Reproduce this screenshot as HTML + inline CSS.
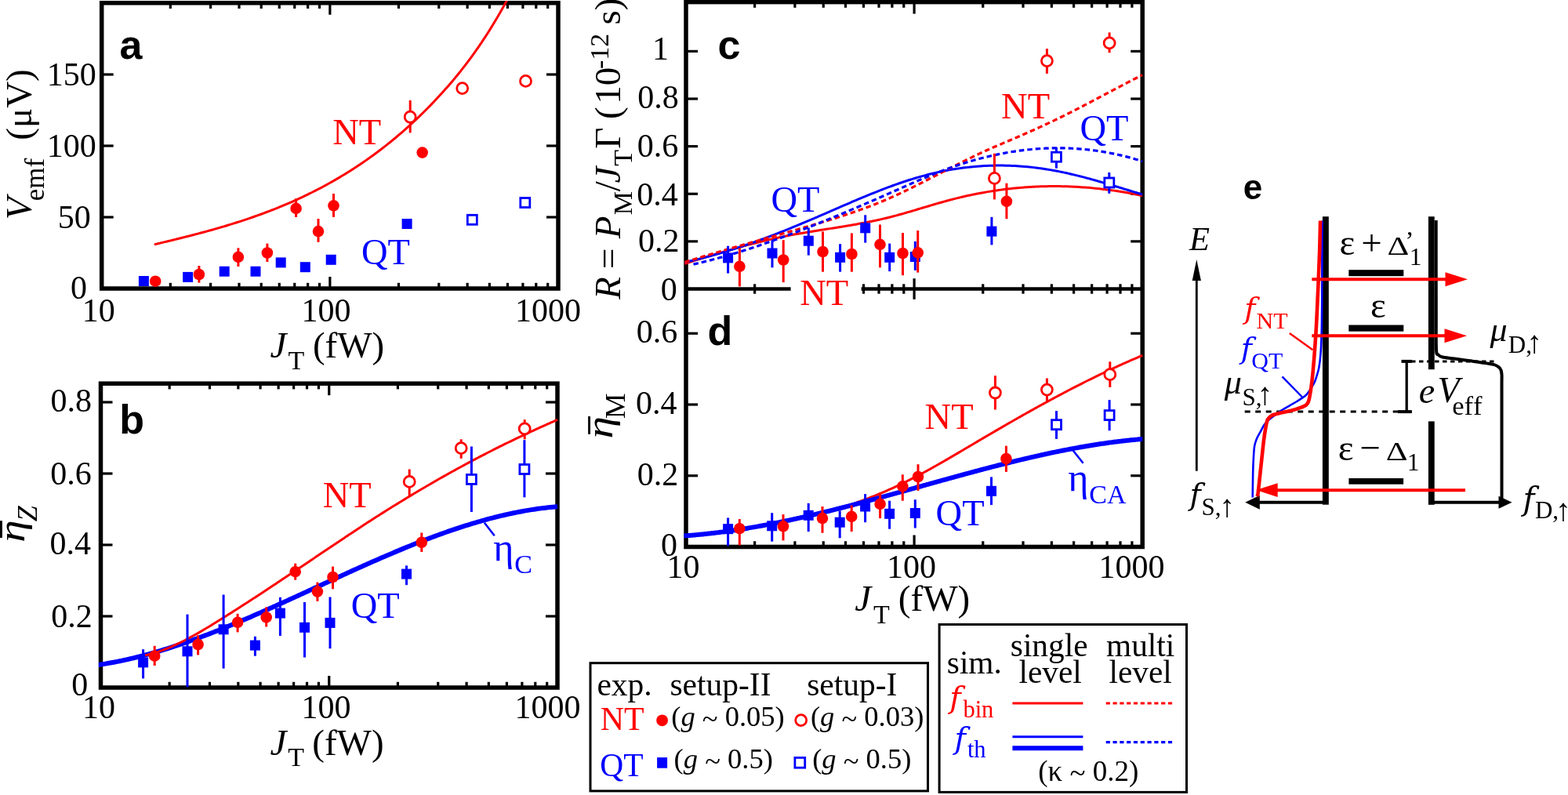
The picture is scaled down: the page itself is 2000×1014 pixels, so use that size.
<!DOCTYPE html>
<html><head><meta charset="utf-8"><title>figure</title>
<style>html,body{margin:0;padding:0;background:#fff;overflow:hidden}svg{display:block}text{font-kerning:none}</style>
</head><body>
<svg width="2000" height="1014" viewBox="0 0 2000 1014">
<defs><clipPath id="clipA"><rect x="127" y="1.05" width="587.7" height="369.65"/></clipPath><clipPath id="clipB"><rect x="125.8" y="486.5" width="587.9" height="393.2"/></clipPath><clipPath id="clipC"><rect x="872.3" y="-0.1" width="587.6" height="368.6"/></clipPath><clipPath id="clipD"><rect x="872.3" y="368.5" width="587.6" height="331.7"/></clipPath></defs>
<rect width="100%" height="100%" fill="#fff"/>
<line x1="217.34" y1="368" x2="217.34" y2="360.8" stroke="#000000" stroke-width="3.2" />
<line x1="268.61" y1="368" x2="268.61" y2="360.8" stroke="#000000" stroke-width="3.2" />
<line x1="304.99" y1="368" x2="304.99" y2="360.8" stroke="#000000" stroke-width="3.2" />
<line x1="333.21" y1="368" x2="333.21" y2="360.8" stroke="#000000" stroke-width="3.2" />
<line x1="356.26" y1="368" x2="356.26" y2="360.8" stroke="#000000" stroke-width="3.2" />
<line x1="375.75" y1="368" x2="375.75" y2="360.8" stroke="#000000" stroke-width="3.2" />
<line x1="392.63" y1="368" x2="392.63" y2="360.8" stroke="#000000" stroke-width="3.2" />
<line x1="407.53" y1="368" x2="407.53" y2="360.8" stroke="#000000" stroke-width="3.2" />
<line x1="420.85" y1="368" x2="420.85" y2="353" stroke="#000000" stroke-width="3.2" />
<line x1="508.49" y1="368" x2="508.49" y2="360.8" stroke="#000000" stroke-width="3.2" />
<line x1="559.76" y1="368" x2="559.76" y2="360.8" stroke="#000000" stroke-width="3.2" />
<line x1="596.14" y1="368" x2="596.14" y2="360.8" stroke="#000000" stroke-width="3.2" />
<line x1="624.36" y1="368" x2="624.36" y2="360.8" stroke="#000000" stroke-width="3.2" />
<line x1="647.41" y1="368" x2="647.41" y2="360.8" stroke="#000000" stroke-width="3.2" />
<line x1="666.9" y1="368" x2="666.9" y2="360.8" stroke="#000000" stroke-width="3.2" />
<line x1="683.78" y1="368" x2="683.78" y2="360.8" stroke="#000000" stroke-width="3.2" />
<line x1="698.68" y1="368" x2="698.68" y2="360.8" stroke="#000000" stroke-width="3.2" />
<line x1="217.34" y1="3.75" x2="217.34" y2="10.95" stroke="#000000" stroke-width="3.2" />
<line x1="268.61" y1="3.75" x2="268.61" y2="10.95" stroke="#000000" stroke-width="3.2" />
<line x1="304.99" y1="3.75" x2="304.99" y2="10.95" stroke="#000000" stroke-width="3.2" />
<line x1="333.21" y1="3.75" x2="333.21" y2="10.95" stroke="#000000" stroke-width="3.2" />
<line x1="356.26" y1="3.75" x2="356.26" y2="10.95" stroke="#000000" stroke-width="3.2" />
<line x1="375.75" y1="3.75" x2="375.75" y2="10.95" stroke="#000000" stroke-width="3.2" />
<line x1="392.63" y1="3.75" x2="392.63" y2="10.95" stroke="#000000" stroke-width="3.2" />
<line x1="407.53" y1="3.75" x2="407.53" y2="10.95" stroke="#000000" stroke-width="3.2" />
<line x1="420.85" y1="3.75" x2="420.85" y2="18.75" stroke="#000000" stroke-width="3.2" />
<line x1="508.49" y1="3.75" x2="508.49" y2="10.95" stroke="#000000" stroke-width="3.2" />
<line x1="559.76" y1="3.75" x2="559.76" y2="10.95" stroke="#000000" stroke-width="3.2" />
<line x1="596.14" y1="3.75" x2="596.14" y2="10.95" stroke="#000000" stroke-width="3.2" />
<line x1="624.36" y1="3.75" x2="624.36" y2="10.95" stroke="#000000" stroke-width="3.2" />
<line x1="647.41" y1="3.75" x2="647.41" y2="10.95" stroke="#000000" stroke-width="3.2" />
<line x1="666.9" y1="3.75" x2="666.9" y2="10.95" stroke="#000000" stroke-width="3.2" />
<line x1="683.78" y1="3.75" x2="683.78" y2="10.95" stroke="#000000" stroke-width="3.2" />
<line x1="698.68" y1="3.75" x2="698.68" y2="10.95" stroke="#000000" stroke-width="3.2" />
<line x1="129.7" y1="277" x2="144.7" y2="277" stroke="#000000" stroke-width="3.2" />
<line x1="712" y1="277" x2="697" y2="277" stroke="#000000" stroke-width="3.2" />
<line x1="129.7" y1="186" x2="144.7" y2="186" stroke="#000000" stroke-width="3.2" />
<line x1="712" y1="186" x2="697" y2="186" stroke="#000000" stroke-width="3.2" />
<line x1="129.7" y1="95" x2="144.7" y2="95" stroke="#000000" stroke-width="3.2" />
<line x1="712" y1="95" x2="697" y2="95" stroke="#000000" stroke-width="3.2" />
<rect x="129.7" y="3.75" width="582.3" height="364.25" fill="none" stroke="#000" stroke-width="5.5"/>
<path d="M198.1,311.54 C198.6,311.42 200.11,311.06 201.11,310.82 C202.11,310.58 203.12,310.34 204.12,310.1 C205.12,309.86 206.13,309.62 207.13,309.38 C208.13,309.14 209.13,308.9 210.14,308.66 C211.14,308.42 212.14,308.18 213.15,307.94 C214.15,307.69 215.15,307.45 216.16,307.21 C217.16,306.96 218.16,306.72 219.17,306.47 C220.17,306.23 221.17,305.99 222.18,305.74 C223.18,305.49 224.18,305.25 225.18,305 C226.19,304.75 227.19,304.5 228.19,304.25 C229.2,304.01 230.2,303.76 231.2,303.51 C232.21,303.25 233.21,303 234.21,302.75 C235.22,302.5 236.22,302.25 237.22,301.99 C238.23,301.74 239.23,301.48 240.23,301.23 C241.23,300.97 242.24,300.71 243.24,300.45 C244.24,300.2 245.25,299.94 246.25,299.68 C247.25,299.42 248.26,299.15 249.26,298.89 C250.26,298.63 251.27,298.37 252.27,298.1 C253.27,297.84 254.28,297.57 255.28,297.3 C256.28,297.04 257.28,296.77 258.29,296.5 C259.29,296.23 260.29,295.96 261.3,295.68 C262.3,295.41 263.3,295.14 264.31,294.86 C265.31,294.59 266.31,294.31 267.32,294.03 C268.32,293.75 269.32,293.47 270.33,293.19 C271.33,292.91 272.33,292.63 273.33,292.34 C274.34,292.06 275.34,291.77 276.34,291.49 C277.35,291.2 278.35,290.91 279.35,290.62 C280.36,290.33 281.36,290.03 282.36,289.74 C283.37,289.45 284.37,289.15 285.37,288.85 C286.38,288.56 287.38,288.26 288.38,287.95 C289.39,287.65 290.39,287.35 291.39,287.05 C292.39,286.74 293.4,286.43 294.4,286.13 C295.4,285.82 296.41,285.51 297.41,285.19 C298.41,284.88 299.42,284.57 300.42,284.25 C301.42,283.93 302.43,283.61 303.43,283.29 C304.43,282.97 305.44,282.65 306.44,282.33 C307.44,282 308.44,281.67 309.45,281.34 C310.45,281.02 311.45,280.68 312.46,280.35 C313.46,280.02 314.46,279.68 315.47,279.34 C316.47,279.01 317.47,278.67 318.48,278.32 C319.48,277.98 320.48,277.63 321.49,277.29 C322.49,276.94 323.49,276.59 324.49,276.24 C325.5,275.89 326.5,275.53 327.5,275.17 C328.51,274.82 329.51,274.46 330.51,274.1 C331.52,273.73 332.52,273.37 333.52,273 C334.53,272.63 335.53,272.26 336.53,271.89 C337.54,271.52 338.54,271.14 339.54,270.77 C340.54,270.39 341.55,270.01 342.55,269.63 C343.55,269.24 344.56,268.86 345.56,268.47 C346.56,268.08 347.57,267.69 348.57,267.29 C349.57,266.9 350.58,266.5 351.58,266.1 C352.58,265.7 353.59,265.3 354.59,264.89 C355.59,264.49 356.59,264.08 357.6,263.67 C358.6,263.25 359.6,262.84 360.61,262.42 C361.61,262 362.61,261.58 363.62,261.16 C364.62,260.74 365.62,260.31 366.63,259.88 C367.63,259.45 368.63,259.01 369.64,258.58 C370.64,258.14 371.64,257.7 372.64,257.26 C373.65,256.82 374.65,256.37 375.65,255.92 C376.66,255.47 377.66,255.02 378.66,254.56 C379.67,254.1 380.67,253.65 381.67,253.18 C382.68,252.72 383.68,252.25 384.68,251.78 C385.69,251.31 386.69,250.84 387.69,250.36 C388.7,249.89 389.7,249.41 390.7,248.92 C391.7,248.44 392.71,247.95 393.71,247.46 C394.71,246.97 395.72,246.47 396.72,245.98 C397.72,245.48 398.73,244.98 399.73,244.47 C400.73,243.96 401.74,243.46 402.74,242.94 C403.74,242.43 404.75,241.91 405.75,241.39 C406.75,240.87 407.75,240.35 408.76,239.82 C409.76,239.29 410.76,238.76 411.77,238.22 C412.77,237.69 413.77,237.15 414.78,236.6 C415.78,236.06 416.78,235.51 417.79,234.96 C418.79,234.41 419.79,233.85 420.8,233.29 C421.8,232.73 422.8,232.17 423.8,231.6 C424.81,231.03 425.81,230.46 426.81,229.88 C427.82,229.3 428.82,228.72 429.82,228.14 C430.83,227.55 431.83,226.96 432.83,226.37 C433.84,225.78 434.84,225.18 435.84,224.58 C436.85,223.98 437.85,223.37 438.85,222.76 C439.85,222.15 440.86,221.53 441.86,220.91 C442.86,220.29 443.87,219.67 444.87,219.04 C445.87,218.41 446.88,217.78 447.88,217.14 C448.88,216.5 449.89,215.86 450.89,215.21 C451.89,214.57 452.9,213.91 453.9,213.26 C454.9,212.6 455.9,211.94 456.91,211.27 C457.91,210.61 458.91,209.94 459.92,209.26 C460.92,208.58 461.92,207.9 462.93,207.22 C463.93,206.53 464.93,205.84 465.94,205.14 C466.94,204.45 467.94,203.74 468.95,203.04 C469.95,202.33 470.95,201.62 471.96,200.9 C472.96,200.19 473.96,199.47 474.96,198.74 C475.97,198.01 476.97,197.28 477.97,196.54 C478.98,195.8 479.98,195.06 480.98,194.31 C481.99,193.56 482.99,192.81 483.99,192.05 C485,191.29 486,190.52 487,189.75 C488.01,188.98 489.01,188.2 490.01,187.42 C491.01,186.64 492.02,185.85 493.02,185.06 C494.02,184.26 495.03,183.47 496.03,182.66 C497.03,181.86 498.04,181.04 499.04,180.23 C500.04,179.41 501.05,178.59 502.05,177.76 C503.05,176.93 504.06,176.1 505.06,175.26 C506.06,174.42 507.06,173.57 508.07,172.72 C509.07,171.86 510.07,171 511.08,170.14 C512.08,169.27 513.08,168.4 514.09,167.53 C515.09,166.65 516.09,165.76 517.1,164.87 C518.1,163.98 519.1,163.09 520.11,162.18 C521.11,161.28 522.11,160.37 523.11,159.46 C524.12,158.54 525.12,157.62 526.12,156.69 C527.13,155.76 528.13,154.83 529.13,153.88 C530.14,152.94 531.14,151.99 532.14,151.04 C533.15,150.08 534.15,149.12 535.15,148.15 C536.16,147.18 537.16,146.21 538.16,145.23 C539.16,144.24 540.17,143.25 541.17,142.26 C542.17,141.26 543.18,140.26 544.18,139.25 C545.18,138.24 546.19,137.22 547.19,136.2 C548.19,135.17 549.2,134.14 550.2,133.1 C551.2,132.07 552.21,131.02 553.21,129.97 C554.21,128.91 555.21,127.85 556.22,126.79 C557.22,125.72 558.22,124.65 559.23,123.56 C560.23,122.48 561.23,121.39 562.24,120.29 C563.24,119.2 564.24,118.09 565.25,116.98 C566.25,115.86 567.25,114.74 568.26,113.61 C569.26,112.48 570.26,111.34 571.27,110.19 C572.27,109.04 573.27,107.88 574.27,106.72 C575.28,105.55 576.28,104.37 577.28,103.18 C578.29,102 579.29,100.8 580.29,99.59 C581.3,98.38 582.3,97.17 583.3,95.94 C584.31,94.71 585.31,93.47 586.31,92.22 C587.32,90.97 588.32,89.71 589.32,88.43 C590.32,87.16 591.33,85.87 592.33,84.58 C593.33,83.28 594.34,81.97 595.34,80.65 C596.34,79.33 597.35,77.99 598.35,76.65 C599.35,75.3 600.36,73.94 601.36,72.57 C602.36,71.2 603.37,69.81 604.37,68.41 C605.37,67.02 606.37,65.6 607.38,64.18 C608.38,62.75 609.38,61.31 610.39,59.86 C611.39,58.4 612.39,56.93 613.4,55.45 C614.4,53.96 615.4,52.47 616.41,50.95 C617.41,49.44 618.41,47.91 619.42,46.37 C620.42,44.82 621.42,43.26 622.42,41.69 C623.43,40.11 624.43,38.52 625.43,36.91 C626.44,35.3 627.44,33.68 628.44,32.04 C629.45,30.4 630.45,28.74 631.45,27.06 C632.46,25.39 633.46,23.7 634.46,21.99 C635.47,20.28 636.47,18.55 637.47,16.81 C638.47,15.06 639.48,13.3 640.48,11.52 C641.48,9.73 642.49,7.94 643.49,6.12 C644.49,4.3 646,1.52 646.5,0.61" fill="none" stroke="#ff0000" stroke-width="3" stroke-linecap="round" stroke-linejoin="round" clip-path="url(#clipA)"/>
<rect x="176.9" y="352" width="13" height="13" fill="#0000ff"/>
<rect x="233.1" y="346.9" width="13" height="13" fill="#0000ff"/>
<rect x="279.7" y="339.7" width="13" height="13" fill="#0000ff"/>
<rect x="319.5" y="339.7" width="13" height="13" fill="#0000ff"/>
<rect x="351.7" y="328.4" width="13" height="13" fill="#0000ff"/>
<rect x="382.8" y="334.2" width="13" height="13" fill="#0000ff"/>
<rect x="415.7" y="324.8" width="13" height="13" fill="#0000ff"/>
<rect x="512.6" y="279" width="13" height="13" fill="#0000ff"/>
<rect x="596.3" y="274.3" width="12" height="12" fill="#fff" stroke="#0000ff" stroke-width="2.8"/>
<rect x="663.8" y="252.5" width="12" height="12" fill="#fff" stroke="#0000ff" stroke-width="2.8"/>
<circle cx="198.2" cy="358.7" r="7.3" fill="#ff0000"/>
<line x1="253.9" y1="339" x2="253.9" y2="360.6" stroke="#ff0000" stroke-width="3" />
<circle cx="253.9" cy="350" r="7.3" fill="#ff0000"/>
<line x1="303.9" y1="316.3" x2="303.9" y2="339.9" stroke="#ff0000" stroke-width="3" />
<circle cx="303.9" cy="327.8" r="7.3" fill="#ff0000"/>
<line x1="340.9" y1="310.6" x2="340.9" y2="334" stroke="#ff0000" stroke-width="3" />
<circle cx="340.9" cy="322.5" r="7.3" fill="#ff0000"/>
<line x1="377.6" y1="253.2" x2="377.6" y2="276.9" stroke="#ff0000" stroke-width="3" />
<circle cx="377.6" cy="265.9" r="7.3" fill="#ff0000"/>
<line x1="406" y1="279" x2="406" y2="308.8" stroke="#ff0000" stroke-width="3" />
<circle cx="406" cy="295.1" r="7.3" fill="#ff0000"/>
<line x1="425.5" y1="247" x2="425.5" y2="276.9" stroke="#ff0000" stroke-width="3" />
<circle cx="425.5" cy="262.3" r="7.3" fill="#ff0000"/>
<circle cx="538.7" cy="194.6" r="7.3" fill="#ff0000"/>
<line x1="523.2" y1="128" x2="523.2" y2="169.4" stroke="#ff0000" stroke-width="3" />
<circle cx="523.2" cy="149.2" r="7" fill="#fff" stroke="#ff0000" stroke-width="2.8"/>
<circle cx="589.7" cy="112.6" r="7" fill="#fff" stroke="#ff0000" stroke-width="2.8"/>
<circle cx="670.5" cy="103.4" r="7" fill="#fff" stroke="#ff0000" stroke-width="2.8"/>
<text transform="translate(152.48,75.49)" font-family="'Liberation Sans',sans-serif" font-style="normal" font-weight="bold" font-size="52" fill="#000000">a</text>
<text transform="translate(424.16,184.3)" font-family="'Liberation Serif',serif" font-style="normal" font-weight="normal" font-size="46.5" fill="#ff0000">NT</text>
<text transform="translate(460.99,337.2)" font-family="'Liberation Serif',serif" font-style="normal" font-weight="normal" font-size="46.5" fill="#0000ff">QT</text>
<text transform="translate(90,380.59)" font-family="'Liberation Serif',serif" font-style="normal" font-weight="normal" font-size="42" fill="#000000">0</text>
<text transform="translate(73.78,290.99)" font-family="'Liberation Serif',serif" font-style="normal" font-weight="normal" font-size="42" fill="#000000">50</text>
<text transform="translate(59.75,199.89)" font-family="'Liberation Serif',serif" font-style="normal" font-weight="normal" font-size="42" fill="#000000">100</text>
<text transform="translate(59.75,109.09)" font-family="'Liberation Serif',serif" font-style="normal" font-weight="normal" font-size="42" fill="#000000">150</text>
<text transform="translate(104.85,409.99)" font-family="'Liberation Serif',serif" font-style="normal" font-weight="normal" font-size="42" fill="#000000">10</text>
<text transform="translate(384.55,410.29)" font-family="'Liberation Serif',serif" font-style="normal" font-weight="normal" font-size="42" fill="#000000">100</text>
<text transform="translate(656.95,409.99)" font-family="'Liberation Serif',serif" font-style="normal" font-weight="normal" font-size="42" fill="#000000">1000</text>
<text transform="translate(344.49,456.3)" font-family="'Liberation Serif',serif" font-style="italic" font-weight="normal" font-size="47" fill="#000000">J</text>
<text transform="translate(367.39,470.9)" font-family="'Liberation Serif',serif" font-style="normal" font-weight="normal" font-size="34" fill="#000000">T</text>
<text transform="translate(398.93,456.3)" font-family="'Liberation Serif',serif" font-style="normal" font-weight="normal" font-size="47" fill="#000000">(fW)</text>
<text transform="translate(40.3,280.16) rotate(-90)" font-family="'Liberation Serif',serif" font-style="italic" font-weight="normal" font-size="47" fill="#000000">V</text>
<text transform="translate(55.9,256.27) rotate(-90)" font-family="'Liberation Serif',serif" font-style="normal" font-weight="normal" font-size="35" fill="#000000">emf</text>
<text transform="translate(40,178.67) rotate(-90)" font-family="'Liberation Serif',serif" font-style="normal" font-weight="normal" font-size="47" fill="#000000">(μV)</text>
<line x1="216.17" y1="877" x2="216.17" y2="869.8" stroke="#000000" stroke-width="3.2" />
<line x1="267.46" y1="877" x2="267.46" y2="869.8" stroke="#000000" stroke-width="3.2" />
<line x1="303.85" y1="877" x2="303.85" y2="869.8" stroke="#000000" stroke-width="3.2" />
<line x1="332.08" y1="877" x2="332.08" y2="869.8" stroke="#000000" stroke-width="3.2" />
<line x1="355.14" y1="877" x2="355.14" y2="869.8" stroke="#000000" stroke-width="3.2" />
<line x1="374.63" y1="877" x2="374.63" y2="869.8" stroke="#000000" stroke-width="3.2" />
<line x1="391.52" y1="877" x2="391.52" y2="869.8" stroke="#000000" stroke-width="3.2" />
<line x1="406.42" y1="877" x2="406.42" y2="869.8" stroke="#000000" stroke-width="3.2" />
<line x1="419.75" y1="877" x2="419.75" y2="862" stroke="#000000" stroke-width="3.2" />
<line x1="507.42" y1="877" x2="507.42" y2="869.8" stroke="#000000" stroke-width="3.2" />
<line x1="558.71" y1="877" x2="558.71" y2="869.8" stroke="#000000" stroke-width="3.2" />
<line x1="595.1" y1="877" x2="595.1" y2="869.8" stroke="#000000" stroke-width="3.2" />
<line x1="623.33" y1="877" x2="623.33" y2="869.8" stroke="#000000" stroke-width="3.2" />
<line x1="646.39" y1="877" x2="646.39" y2="869.8" stroke="#000000" stroke-width="3.2" />
<line x1="665.88" y1="877" x2="665.88" y2="869.8" stroke="#000000" stroke-width="3.2" />
<line x1="682.77" y1="877" x2="682.77" y2="869.8" stroke="#000000" stroke-width="3.2" />
<line x1="697.67" y1="877" x2="697.67" y2="869.8" stroke="#000000" stroke-width="3.2" />
<line x1="216.17" y1="489.2" x2="216.17" y2="496.4" stroke="#000000" stroke-width="3.2" />
<line x1="267.46" y1="489.2" x2="267.46" y2="496.4" stroke="#000000" stroke-width="3.2" />
<line x1="303.85" y1="489.2" x2="303.85" y2="496.4" stroke="#000000" stroke-width="3.2" />
<line x1="332.08" y1="489.2" x2="332.08" y2="496.4" stroke="#000000" stroke-width="3.2" />
<line x1="355.14" y1="489.2" x2="355.14" y2="496.4" stroke="#000000" stroke-width="3.2" />
<line x1="374.63" y1="489.2" x2="374.63" y2="496.4" stroke="#000000" stroke-width="3.2" />
<line x1="391.52" y1="489.2" x2="391.52" y2="496.4" stroke="#000000" stroke-width="3.2" />
<line x1="406.42" y1="489.2" x2="406.42" y2="496.4" stroke="#000000" stroke-width="3.2" />
<line x1="419.75" y1="489.2" x2="419.75" y2="504.2" stroke="#000000" stroke-width="3.2" />
<line x1="507.42" y1="489.2" x2="507.42" y2="496.4" stroke="#000000" stroke-width="3.2" />
<line x1="558.71" y1="489.2" x2="558.71" y2="496.4" stroke="#000000" stroke-width="3.2" />
<line x1="595.1" y1="489.2" x2="595.1" y2="496.4" stroke="#000000" stroke-width="3.2" />
<line x1="623.33" y1="489.2" x2="623.33" y2="496.4" stroke="#000000" stroke-width="3.2" />
<line x1="646.39" y1="489.2" x2="646.39" y2="496.4" stroke="#000000" stroke-width="3.2" />
<line x1="665.88" y1="489.2" x2="665.88" y2="496.4" stroke="#000000" stroke-width="3.2" />
<line x1="682.77" y1="489.2" x2="682.77" y2="496.4" stroke="#000000" stroke-width="3.2" />
<line x1="697.67" y1="489.2" x2="697.67" y2="496.4" stroke="#000000" stroke-width="3.2" />
<line x1="128.5" y1="786" x2="143.5" y2="786" stroke="#000000" stroke-width="3.2" />
<line x1="711" y1="786" x2="696" y2="786" stroke="#000000" stroke-width="3.2" />
<line x1="128.5" y1="695" x2="143.5" y2="695" stroke="#000000" stroke-width="3.2" />
<line x1="711" y1="695" x2="696" y2="695" stroke="#000000" stroke-width="3.2" />
<line x1="128.5" y1="604" x2="143.5" y2="604" stroke="#000000" stroke-width="3.2" />
<line x1="711" y1="604" x2="696" y2="604" stroke="#000000" stroke-width="3.2" />
<line x1="128.5" y1="513" x2="143.5" y2="513" stroke="#000000" stroke-width="3.2" />
<line x1="711" y1="513" x2="696" y2="513" stroke="#000000" stroke-width="3.2" />
<rect x="128.5" y="489.2" width="582.5" height="387.8" fill="none" stroke="#000" stroke-width="5.5"/>
<path d="M125.5,848 C126,847.93 127.5,847.7 128.5,847.55 C129.5,847.4 130.5,847.24 131.51,847.08 C132.51,846.92 133.51,846.75 134.51,846.59 C135.51,846.42 136.51,846.25 137.51,846.07 C138.51,845.9 139.51,845.72 140.51,845.54 C141.51,845.36 142.51,845.18 143.52,844.99 C144.52,844.81 145.52,844.62 146.52,844.43 C147.52,844.23 148.52,844.04 149.52,843.84 C150.52,843.64 151.52,843.44 152.52,843.23 C153.52,843.03 154.52,842.82 155.53,842.61 C156.53,842.4 157.53,842.18 158.53,841.96 C159.53,841.75 160.53,841.53 161.53,841.3 C162.53,841.08 163.53,840.85 164.53,840.63 C165.53,840.4 166.54,840.16 167.54,839.93 C168.54,839.69 169.54,839.46 170.54,839.22 C171.54,838.98 172.54,838.73 173.54,838.49 C174.54,838.24 175.54,837.99 176.54,837.74 C177.54,837.49 178.55,837.23 179.55,836.98 C180.55,836.72 181.55,836.46 182.55,836.2 C183.55,835.93 184.55,835.67 185.55,835.4 C186.55,835.13 187.55,834.86 188.55,834.59 C189.55,834.32 190.56,834.04 191.56,833.76 C192.56,833.48 193.56,833.2 194.56,832.92 C195.56,832.64 196.56,832.35 197.56,832.06 C198.56,831.77 199.56,831.48 200.56,831.19 C201.56,830.89 202.57,830.6 203.57,830.3 C204.57,830 205.57,829.7 206.57,829.4 C207.57,829.09 208.57,828.79 209.57,828.48 C210.57,828.17 211.57,827.86 212.57,827.55 C213.58,827.24 214.58,826.92 215.58,826.6 C216.58,826.29 217.58,825.97 218.58,825.64 C219.58,825.32 220.58,825 221.58,824.67 C222.58,824.35 223.58,824.02 224.58,823.69 C225.59,823.35 226.59,823.02 227.59,822.69 C228.59,822.35 229.59,822.01 230.59,821.68 C231.59,821.34 232.59,820.99 233.59,820.65 C234.59,820.31 235.59,819.96 236.59,819.61 C237.6,819.27 238.6,818.92 239.6,818.56 C240.6,818.21 241.6,817.86 242.6,817.5 C243.6,817.15 244.6,816.79 245.6,816.43 C246.6,816.07 247.6,815.71 248.61,815.35 C249.61,814.98 250.61,814.62 251.61,814.25 C252.61,813.88 253.61,813.51 254.61,813.14 C255.61,812.77 256.61,812.4 257.61,812.03 C258.61,811.65 259.61,811.28 260.62,810.9 C261.62,810.52 262.62,810.14 263.62,809.76 C264.62,809.38 265.62,808.99 266.62,808.61 C267.62,808.23 268.62,807.84 269.62,807.45 C270.62,807.06 271.62,806.67 272.63,806.28 C273.63,805.89 274.63,805.5 275.63,805.1 C276.63,804.71 277.63,804.31 278.63,803.92 C279.63,803.52 280.63,803.12 281.63,802.72 C282.63,802.32 283.64,801.92 284.64,801.51 C285.64,801.11 286.64,800.7 287.64,800.3 C288.64,799.89 289.64,799.48 290.64,799.07 C291.64,798.67 292.64,798.26 293.64,797.84 C294.64,797.43 295.65,797.02 296.65,796.6 C297.65,796.19 298.65,795.77 299.65,795.36 C300.65,794.94 301.65,794.52 302.65,794.1 C303.65,793.68 304.65,793.26 305.65,792.84 C306.65,792.42 307.66,791.99 308.66,791.57 C309.66,791.15 310.66,790.72 311.66,790.29 C312.66,789.87 313.66,789.44 314.66,789.01 C315.66,788.58 316.66,788.15 317.66,787.72 C318.66,787.29 319.67,786.86 320.67,786.42 C321.67,785.99 322.67,785.56 323.67,785.12 C324.67,784.69 325.67,784.25 326.67,783.81 C327.67,783.38 328.67,782.94 329.67,782.5 C330.68,782.06 331.68,781.62 332.68,781.18 C333.68,780.74 334.68,780.3 335.68,779.86 C336.68,779.42 337.68,778.97 338.68,778.53 C339.68,778.08 340.68,777.64 341.68,777.19 C342.69,776.75 343.69,776.3 344.69,775.86 C345.69,775.41 346.69,774.96 347.69,774.51 C348.69,774.06 349.69,773.62 350.69,773.17 C351.69,772.72 352.69,772.27 353.69,771.81 C354.7,771.36 355.7,770.91 356.7,770.46 C357.7,770.01 358.7,769.55 359.7,769.1 C360.7,768.65 361.7,768.19 362.7,767.74 C363.7,767.29 364.7,766.83 365.71,766.38 C366.71,765.92 367.71,765.46 368.71,765.01 C369.71,764.55 370.71,764.1 371.71,763.64 C372.71,763.18 373.71,762.72 374.71,762.27 C375.71,761.81 376.71,761.35 377.72,760.89 C378.72,760.43 379.72,759.98 380.72,759.52 C381.72,759.06 382.72,758.6 383.72,758.14 C384.72,757.68 385.72,757.22 386.72,756.76 C387.72,756.3 388.72,755.84 389.73,755.38 C390.73,754.92 391.73,754.46 392.73,754 C393.73,753.54 394.73,753.07 395.73,752.61 C396.73,752.15 397.73,751.69 398.73,751.23 C399.73,750.77 400.74,750.31 401.74,749.85 C402.74,749.39 403.74,748.92 404.74,748.46 C405.74,748 406.74,747.54 407.74,747.08 C408.74,746.62 409.74,746.16 410.74,745.7 C411.74,745.23 412.75,744.77 413.75,744.31 C414.75,743.85 415.75,743.39 416.75,742.93 C417.75,742.47 418.75,742.01 419.75,741.55 C420.75,741.09 421.75,740.63 422.75,740.17 C423.75,739.71 424.76,739.25 425.76,738.79 C426.76,738.33 427.76,737.87 428.76,737.41 C429.76,736.95 430.76,736.49 431.76,736.04 C432.76,735.58 433.76,735.12 434.76,734.66 C435.76,734.2 436.77,733.75 437.77,733.29 C438.77,732.83 439.77,732.38 440.77,731.92 C441.77,731.47 442.77,731.01 443.77,730.56 C444.77,730.1 445.77,729.65 446.77,729.19 C447.78,728.74 448.78,728.28 449.78,727.83 C450.78,727.38 451.78,726.93 452.78,726.47 C453.78,726.02 454.78,725.57 455.78,725.12 C456.78,724.67 457.78,724.22 458.78,723.77 C459.79,723.32 460.79,722.87 461.79,722.43 C462.79,721.98 463.79,721.53 464.79,721.08 C465.79,720.64 466.79,720.19 467.79,719.75 C468.79,719.3 469.79,718.86 470.79,718.41 C471.8,717.97 472.8,717.53 473.8,717.09 C474.8,716.64 475.8,716.2 476.8,715.76 C477.8,715.32 478.8,714.88 479.8,714.45 C480.8,714.01 481.8,713.57 482.81,713.13 C483.81,712.7 484.81,712.26 485.81,711.83 C486.81,711.39 487.81,710.96 488.81,710.53 C489.81,710.1 490.81,709.66 491.81,709.23 C492.81,708.8 493.81,708.37 494.82,707.95 C495.82,707.52 496.82,707.09 497.82,706.67 C498.82,706.24 499.82,705.81 500.82,705.39 C501.82,704.97 502.82,704.54 503.82,704.12 C504.82,703.7 505.82,703.28 506.83,702.86 C507.83,702.44 508.83,702.03 509.83,701.61 C510.83,701.19 511.83,700.78 512.83,700.37 C513.83,699.95 514.83,699.54 515.83,699.13 C516.83,698.72 517.84,698.31 518.84,697.9 C519.84,697.49 520.84,697.09 521.84,696.68 C522.84,696.27 523.84,695.87 524.84,695.47 C525.84,695.07 526.84,694.66 527.84,694.26 C528.84,693.87 529.85,693.47 530.85,693.07 C531.85,692.67 532.85,692.28 533.85,691.89 C534.85,691.49 535.85,691.1 536.85,690.71 C537.85,690.32 538.85,689.93 539.85,689.54 C540.85,689.16 541.86,688.77 542.86,688.39 C543.86,688 544.86,687.62 545.86,687.24 C546.86,686.86 547.86,686.48 548.86,686.11 C549.86,685.73 550.86,685.36 551.86,684.98 C552.86,684.61 553.87,684.24 554.87,683.87 C555.87,683.5 556.87,683.13 557.87,682.76 C558.87,682.4 559.87,682.03 560.87,681.67 C561.87,681.31 562.87,680.95 563.87,680.59 C564.88,680.23 565.88,679.88 566.88,679.52 C567.88,679.17 568.88,678.82 569.88,678.46 C570.88,678.11 571.88,677.77 572.88,677.42 C573.88,677.07 574.88,676.73 575.88,676.39 C576.89,676.04 577.89,675.7 578.89,675.37 C579.89,675.03 580.89,674.69 581.89,674.36 C582.89,674.02 583.89,673.69 584.89,673.36 C585.89,673.03 586.89,672.71 587.89,672.38 C588.9,672.06 589.9,671.73 590.9,671.41 C591.9,671.09 592.9,670.77 593.9,670.46 C594.9,670.14 595.9,669.83 596.9,669.52 C597.9,669.21 598.9,668.9 599.91,668.59 C600.91,668.28 601.91,667.98 602.91,667.68 C603.91,667.38 604.91,667.08 605.91,666.78 C606.91,666.48 607.91,666.19 608.91,665.9 C609.91,665.61 610.91,665.32 611.92,665.03 C612.92,664.74 613.92,664.46 614.92,664.18 C615.92,663.89 616.92,663.61 617.92,663.34 C618.92,663.06 619.92,662.79 620.92,662.51 C621.92,662.24 622.92,661.97 623.93,661.71 C624.93,661.44 625.93,661.18 626.93,660.92 C627.93,660.66 628.93,660.4 629.93,660.14 C630.93,659.89 631.93,659.63 632.93,659.38 C633.93,659.13 634.94,658.89 635.94,658.64 C636.94,658.4 637.94,658.16 638.94,657.92 C639.94,657.68 640.94,657.44 641.94,657.21 C642.94,656.98 643.94,656.75 644.94,656.52 C645.94,656.29 646.95,656.07 647.95,655.85 C648.95,655.63 649.95,655.41 650.95,655.19 C651.95,654.98 652.95,654.76 653.95,654.56 C654.95,654.35 655.95,654.14 656.95,653.94 C657.95,653.73 658.96,653.53 659.96,653.34 C660.96,653.14 661.96,652.95 662.96,652.75 C663.96,652.56 664.96,652.38 665.96,652.19 C666.96,652.01 667.96,651.83 668.96,651.65 C669.96,651.47 670.97,651.29 671.97,651.12 C672.97,650.95 673.97,650.78 674.97,650.62 C675.97,650.45 676.97,650.29 677.97,650.13 C678.97,649.97 679.97,649.82 680.97,649.67 C681.98,649.52 682.98,649.37 683.98,649.22 C684.98,649.08 685.98,648.93 686.98,648.8 C687.98,648.66 688.98,648.52 689.98,648.39 C690.98,648.26 691.98,648.13 692.98,648.01 C693.99,647.88 694.99,647.76 695.99,647.65 C696.99,647.53 697.99,647.41 698.99,647.3 C699.99,647.19 700.99,647.09 701.99,646.98 C702.99,646.88 703.99,646.78 704.99,646.69 C706,646.59 707,646.5 708,646.41 C709,646.32 710.5,646.2 711,646.16" fill="none" stroke="#0000ff" stroke-width="6" stroke-linecap="butt" stroke-linejoin="round" clip-path="url(#clipB)"/>
<path d="M185,835.85 C185.5,835.74 187,835.41 188.01,835.18 C189.01,834.94 190.01,834.7 191.01,834.44 C192.01,834.18 193.02,833.91 194.02,833.63 C195.02,833.35 196.02,833.06 197.02,832.76 C198.02,832.46 199.03,832.15 200.03,831.83 C201.03,831.51 202.03,831.18 203.03,830.84 C204.04,830.5 205.04,830.15 206.04,829.79 C207.04,829.43 208.04,829.06 209.05,828.68 C210.05,828.3 211.05,827.91 212.05,827.51 C213.05,827.12 214.06,826.71 215.06,826.3 C216.06,825.89 217.06,825.46 218.06,825.03 C219.06,824.6 220.07,824.16 221.07,823.72 C222.07,823.27 223.07,822.82 224.07,822.36 C225.08,821.89 226.08,821.43 227.08,820.95 C228.08,820.47 229.08,819.99 230.09,819.5 C231.09,819.01 232.09,818.51 233.09,818.01 C234.09,817.51 235.1,817 236.1,816.48 C237.1,815.97 238.1,815.44 239.1,814.92 C240.1,814.39 241.11,813.85 242.11,813.31 C243.11,812.77 244.11,812.23 245.11,811.68 C246.12,811.13 247.12,810.57 248.12,810.02 C249.12,809.46 250.12,808.89 251.13,808.32 C252.13,807.75 253.13,807.18 254.13,806.6 C255.13,806.02 256.14,805.44 257.14,804.85 C258.14,804.27 259.14,803.68 260.14,803.08 C261.14,802.49 262.15,801.89 263.15,801.29 C264.15,800.69 265.15,800.09 266.15,799.48 C267.16,798.88 268.16,798.27 269.16,797.66 C270.16,797.04 271.16,796.43 272.17,795.81 C273.17,795.2 274.17,794.58 275.17,793.96 C276.17,793.34 277.18,792.71 278.18,792.09 C279.18,791.47 280.18,790.84 281.18,790.21 C282.18,789.59 283.19,788.96 284.19,788.33 C285.19,787.7 286.19,787.07 287.19,786.44 C288.2,785.81 289.2,785.18 290.2,784.54 C291.2,783.91 292.2,783.28 293.21,782.64 C294.21,782.01 295.21,781.37 296.21,780.74 C297.21,780.1 298.22,779.46 299.22,778.82 C300.22,778.19 301.22,777.55 302.22,776.91 C303.22,776.27 304.23,775.63 305.23,774.98 C306.23,774.34 307.23,773.7 308.23,773.06 C309.24,772.41 310.24,771.77 311.24,771.13 C312.24,770.48 313.24,769.83 314.25,769.19 C315.25,768.54 316.25,767.89 317.25,767.25 C318.25,766.6 319.26,765.95 320.26,765.3 C321.26,764.65 322.26,764 323.26,763.35 C324.26,762.7 325.27,762.05 326.27,761.39 C327.27,760.74 328.27,760.09 329.27,759.43 C330.28,758.78 331.28,758.13 332.28,757.47 C333.28,756.81 334.28,756.16 335.29,755.5 C336.29,754.84 337.29,754.19 338.29,753.53 C339.29,752.87 340.3,752.21 341.3,751.55 C342.3,750.89 343.3,750.23 344.3,749.57 C345.3,748.91 346.31,748.25 347.31,747.59 C348.31,746.93 349.31,746.26 350.31,745.6 C351.32,744.94 352.32,744.28 353.32,743.61 C354.32,742.95 355.32,742.28 356.33,741.62 C357.33,740.95 358.33,740.29 359.33,739.62 C360.33,738.95 361.34,738.28 362.34,737.62 C363.34,736.95 364.34,736.28 365.34,735.61 C366.34,734.94 367.35,734.28 368.35,733.61 C369.35,732.94 370.35,732.27 371.35,731.6 C372.36,730.92 373.36,730.25 374.36,729.58 C375.36,728.91 376.36,728.24 377.37,727.57 C378.37,726.89 379.37,726.22 380.37,725.55 C381.37,724.87 382.38,724.2 383.38,723.53 C384.38,722.85 385.38,722.18 386.38,721.5 C387.38,720.83 388.39,720.15 389.39,719.48 C390.39,718.8 391.39,718.13 392.39,717.45 C393.4,716.78 394.4,716.1 395.4,715.43 C396.4,714.75 397.4,714.08 398.41,713.4 C399.41,712.72 400.41,712.05 401.41,711.37 C402.41,710.7 403.42,710.02 404.42,709.34 C405.42,708.67 406.42,707.99 407.42,707.32 C408.42,706.64 409.43,705.97 410.43,705.29 C411.43,704.61 412.43,703.94 413.43,703.26 C414.44,702.59 415.44,701.91 416.44,701.24 C417.44,700.57 418.44,699.89 419.45,699.22 C420.45,698.54 421.45,697.87 422.45,697.2 C423.45,696.52 424.46,695.85 425.46,695.18 C426.46,694.5 427.46,693.83 428.46,693.16 C429.46,692.49 430.47,691.82 431.47,691.15 C432.47,690.48 433.47,689.81 434.47,689.14 C435.48,688.47 436.48,687.8 437.48,687.13 C438.48,686.46 439.48,685.79 440.49,685.13 C441.49,684.46 442.49,683.79 443.49,683.13 C444.49,682.46 445.5,681.8 446.5,681.14 C447.5,680.47 448.5,679.81 449.5,679.15 C450.5,678.48 451.51,677.82 452.51,677.16 C453.51,676.5 454.51,675.84 455.51,675.18 C456.52,674.53 457.52,673.87 458.52,673.21 C459.52,672.55 460.52,671.9 461.53,671.24 C462.53,670.59 463.53,669.94 464.53,669.28 C465.53,668.63 466.54,667.98 467.54,667.33 C468.54,666.68 469.54,666.03 470.54,665.38 C471.54,664.74 472.55,664.09 473.55,663.45 C474.55,662.8 475.55,662.16 476.55,661.51 C477.56,660.87 478.56,660.23 479.56,659.59 C480.56,658.95 481.56,658.31 482.57,657.67 C483.57,657.04 484.57,656.4 485.57,655.76 C486.57,655.13 487.58,654.5 488.58,653.86 C489.58,653.23 490.58,652.6 491.58,651.97 C492.58,651.34 493.59,650.71 494.59,650.08 C495.59,649.46 496.59,648.83 497.59,648.2 C498.6,647.58 499.6,646.96 500.6,646.33 C501.6,645.71 502.6,645.09 503.61,644.47 C504.61,643.85 505.61,643.23 506.61,642.61 C507.61,642 508.62,641.38 509.62,640.77 C510.62,640.15 511.62,639.54 512.62,638.93 C513.62,638.32 514.63,637.7 515.63,637.1 C516.63,636.49 517.63,635.88 518.63,635.27 C519.64,634.66 520.64,634.06 521.64,633.45 C522.64,632.85 523.64,632.25 524.65,631.65 C525.65,631.04 526.65,630.44 527.65,629.84 C528.65,629.25 529.66,628.65 530.66,628.05 C531.66,627.45 532.66,626.86 533.66,626.27 C534.66,625.67 535.67,625.08 536.67,624.49 C537.67,623.9 538.67,623.31 539.67,622.72 C540.68,622.13 541.68,621.54 542.68,620.96 C543.68,620.37 544.68,619.79 545.69,619.21 C546.69,618.62 547.69,618.04 548.69,617.46 C549.69,616.88 550.7,616.3 551.7,615.72 C552.7,615.14 553.7,614.57 554.7,613.99 C555.7,613.42 556.71,612.84 557.71,612.27 C558.71,611.7 559.71,611.13 560.71,610.56 C561.72,609.99 562.72,609.42 563.72,608.85 C564.72,608.29 565.72,607.72 566.73,607.16 C567.73,606.59 568.73,606.03 569.73,605.47 C570.73,604.91 571.74,604.35 572.74,603.79 C573.74,603.23 574.74,602.67 575.74,602.12 C576.74,601.56 577.75,601.01 578.75,600.45 C579.75,599.9 580.75,599.35 581.75,598.8 C582.76,598.25 583.76,597.7 584.76,597.15 C585.76,596.6 586.76,596.06 587.77,595.51 C588.77,594.97 589.77,594.42 590.77,593.88 C591.77,593.34 592.78,592.8 593.78,592.26 C594.78,591.72 595.78,591.18 596.78,590.64 C597.78,590.11 598.79,589.57 599.79,589.04 C600.79,588.5 601.79,587.97 602.79,587.44 C603.8,586.91 604.8,586.38 605.8,585.85 C606.8,585.32 607.8,584.8 608.81,584.27 C609.81,583.75 610.81,583.22 611.81,582.7 C612.81,582.18 613.82,581.66 614.82,581.14 C615.82,580.62 616.82,580.1 617.82,579.58 C618.82,579.06 619.83,578.55 620.83,578.03 C621.83,577.52 622.83,577.01 623.83,576.5 C624.84,575.99 625.84,575.48 626.84,574.97 C627.84,574.46 628.84,573.95 629.85,573.45 C630.85,572.94 631.85,572.44 632.85,571.93 C633.85,571.43 634.86,570.93 635.86,570.43 C636.86,569.93 637.86,569.43 638.86,568.94 C639.86,568.44 640.87,567.94 641.87,567.45 C642.87,566.95 643.87,566.46 644.87,565.97 C645.88,565.48 646.88,564.99 647.88,564.5 C648.88,564.01 649.88,563.52 650.89,563.04 C651.89,562.55 652.89,562.06 653.89,561.58 C654.89,561.1 655.9,560.61 656.9,560.13 C657.9,559.65 658.9,559.17 659.9,558.69 C660.9,558.22 661.91,557.74 662.91,557.26 C663.91,556.79 664.91,556.31 665.91,555.84 C666.92,555.37 667.92,554.9 668.92,554.42 C669.92,553.95 670.92,553.48 671.93,553.02 C672.93,552.55 673.93,552.08 674.93,551.62 C675.93,551.15 676.94,550.69 677.94,550.22 C678.94,549.76 679.94,549.3 680.94,548.84 C681.94,548.38 682.95,547.92 683.95,547.46 C684.95,547 685.95,546.54 686.95,546.09 C687.96,545.63 688.96,545.18 689.96,544.73 C690.96,544.27 691.96,543.82 692.97,543.37 C693.97,542.92 694.97,542.47 695.97,542.02 C696.97,541.57 697.98,541.12 698.98,540.68 C699.98,540.23 700.98,539.79 701.98,539.34 C702.98,538.9 703.99,538.46 704.99,538.01 C705.99,537.57 706.99,537.13 707.99,536.69 C709,536.25 710.5,535.6 711,535.38" fill="none" stroke="#ff0000" stroke-width="3" stroke-linecap="butt" stroke-linejoin="round" clip-path="url(#clipB)"/>
<line x1="182.6" y1="828.2" x2="182.6" y2="865.4" stroke="#0000ff" stroke-width="3" />
<rect x="176.1" y="838.4" width="13" height="13" fill="#0000ff"/>
<line x1="239" y1="783.6" x2="239" y2="876.4" stroke="#0000ff" stroke-width="3" />
<rect x="232.5" y="824.3" width="13" height="13" fill="#0000ff"/>
<line x1="285.1" y1="758.5" x2="285.1" y2="852.6" stroke="#0000ff" stroke-width="3" />
<rect x="278.6" y="796.3" width="13" height="13" fill="#0000ff"/>
<line x1="325.4" y1="811.8" x2="325.4" y2="836.7" stroke="#0000ff" stroke-width="3" />
<rect x="318.9" y="816.6" width="13" height="13" fill="#0000ff"/>
<line x1="357.4" y1="761.8" x2="357.4" y2="811" stroke="#0000ff" stroke-width="3" />
<rect x="350.9" y="775.6" width="13" height="13" fill="#0000ff"/>
<line x1="388.5" y1="768" x2="388.5" y2="838.5" stroke="#0000ff" stroke-width="3" />
<rect x="382" y="793.8" width="13" height="13" fill="#0000ff"/>
<line x1="421" y1="761.5" x2="421" y2="827.2" stroke="#0000ff" stroke-width="3" />
<rect x="414.5" y="787.9" width="13" height="13" fill="#0000ff"/>
<line x1="518.5" y1="721.4" x2="518.5" y2="746.2" stroke="#0000ff" stroke-width="3" />
<rect x="512" y="725.6" width="13" height="13" fill="#0000ff"/>
<line x1="601.4" y1="569.5" x2="601.4" y2="653" stroke="#0000ff" stroke-width="3" />
<rect x="595.4" y="605.4" width="12" height="12" fill="#fff" stroke="#0000ff" stroke-width="2.8"/>
<line x1="668.9" y1="561.2" x2="668.9" y2="634.3" stroke="#0000ff" stroke-width="3" />
<rect x="662.9" y="592.5" width="12" height="12" fill="#fff" stroke="#0000ff" stroke-width="2.8"/>
<line x1="197.2" y1="823.8" x2="197.2" y2="849" stroke="#ff0000" stroke-width="3" />
<circle cx="197.2" cy="836.7" r="7.3" fill="#ff0000"/>
<line x1="252.6" y1="810.3" x2="252.6" y2="835.4" stroke="#ff0000" stroke-width="3" />
<circle cx="252.6" cy="822" r="7.3" fill="#ff0000"/>
<line x1="303.1" y1="782.8" x2="303.1" y2="806.4" stroke="#ff0000" stroke-width="3" />
<circle cx="303.1" cy="793.8" r="7.3" fill="#ff0000"/>
<line x1="339.7" y1="774.4" x2="339.7" y2="799.5" stroke="#ff0000" stroke-width="3" />
<circle cx="339.7" cy="787.4" r="7.3" fill="#ff0000"/>
<line x1="376.7" y1="718.7" x2="376.7" y2="739.7" stroke="#ff0000" stroke-width="3" />
<circle cx="376.7" cy="729.2" r="7.3" fill="#ff0000"/>
<line x1="404.9" y1="742.6" x2="404.9" y2="766.9" stroke="#ff0000" stroke-width="3" />
<circle cx="404.9" cy="754.6" r="7.3" fill="#ff0000"/>
<line x1="424.5" y1="722.6" x2="424.5" y2="751.3" stroke="#ff0000" stroke-width="3" />
<circle cx="424.5" cy="736" r="7.3" fill="#ff0000"/>
<line x1="537.8" y1="679.5" x2="537.8" y2="704" stroke="#ff0000" stroke-width="3" />
<circle cx="537.8" cy="691.8" r="7.3" fill="#ff0000"/>
<line x1="522.2" y1="598.5" x2="522.2" y2="633.7" stroke="#ff0000" stroke-width="3" />
<circle cx="522.2" cy="614.4" r="7" fill="#fff" stroke="#ff0000" stroke-width="2.8"/>
<line x1="588.2" y1="560.3" x2="588.2" y2="584.8" stroke="#ff0000" stroke-width="3" />
<circle cx="588.2" cy="571.6" r="7" fill="#fff" stroke="#ff0000" stroke-width="2.8"/>
<line x1="669.2" y1="535.2" x2="669.2" y2="560.3" stroke="#ff0000" stroke-width="3" />
<circle cx="669.2" cy="546.9" r="7" fill="#fff" stroke="#ff0000" stroke-width="2.8"/>
<text transform="translate(152.37,553.09)" font-family="'Liberation Sans',sans-serif" font-style="normal" font-weight="bold" font-size="52" fill="#000000">b</text>
<text transform="translate(411.66,646.5)" font-family="'Liberation Serif',serif" font-style="normal" font-weight="normal" font-size="46.5" fill="#ff0000">NT</text>
<text transform="translate(447.79,788)" font-family="'Liberation Serif',serif" font-style="normal" font-weight="normal" font-size="46.5" fill="#0000ff">QT</text>
<line x1="617.9" y1="666.7" x2="630.7" y2="683.2" stroke="#0000ff" stroke-width="2.6" />
<text transform="translate(629.22,714.7)" font-family="'Liberation Serif',serif" font-style="normal" font-weight="normal" font-size="50" fill="#0000ff">η</text>
<text transform="translate(656.21,731.17)" font-family="'Liberation Serif',serif" font-style="normal" font-weight="normal" font-size="34" fill="#0000ff">C</text>
<text transform="translate(64.5,525.11)" font-family="'Liberation Serif',serif" font-style="normal" font-weight="normal" font-size="42" fill="#000000">0.8</text>
<text transform="translate(64.15,617.91)" font-family="'Liberation Serif',serif" font-style="normal" font-weight="normal" font-size="42" fill="#000000">0.6</text>
<text transform="translate(63.56,707.21)" font-family="'Liberation Serif',serif" font-style="normal" font-weight="normal" font-size="42" fill="#000000">0.4</text>
<text transform="translate(65.22,800.31)" font-family="'Liberation Serif',serif" font-style="normal" font-weight="normal" font-size="42" fill="#000000">0.2</text>
<text transform="translate(91.3,887.09)" font-family="'Liberation Serif',serif" font-style="normal" font-weight="normal" font-size="42" fill="#000000">0</text>
<text transform="translate(105.05,916.29)" font-family="'Liberation Serif',serif" font-style="normal" font-weight="normal" font-size="42" fill="#000000">10</text>
<text transform="translate(384.55,916.29)" font-family="'Liberation Serif',serif" font-style="normal" font-weight="normal" font-size="42" fill="#000000">100</text>
<text transform="translate(656.45,916.29)" font-family="'Liberation Serif',serif" font-style="normal" font-weight="normal" font-size="42" fill="#000000">1000</text>
<text transform="translate(344.39,962.6)" font-family="'Liberation Serif',serif" font-style="italic" font-weight="normal" font-size="47" fill="#000000">J</text>
<text transform="translate(367.19,976.6)" font-family="'Liberation Serif',serif" font-style="normal" font-weight="normal" font-size="34" fill="#000000">T</text>
<text transform="translate(398.23,962.6)" font-family="'Liberation Serif',serif" font-style="normal" font-weight="normal" font-size="47" fill="#000000">(fW)</text>
<text transform="translate(31.4,691.85) rotate(-90) scale(1.16,1)" font-family="'Liberation Serif',serif" font-style="italic" font-weight="normal" font-size="49.5" fill="#000000">η</text>
<rect x="-0.2" y="664.2" width="3.1" height="21.8" fill="#000000"/>
<text transform="translate(46.8,665.24) rotate(-90)" font-family="'Liberation Serif',serif" font-style="italic" font-weight="normal" font-size="36" fill="#000000">Z</text>
<line x1="962.63" y1="2.6" x2="962.63" y2="9.8" stroke="#000000" stroke-width="3.2" />
<line x1="1013.89" y1="2.6" x2="1013.89" y2="9.8" stroke="#000000" stroke-width="3.2" />
<line x1="1050.26" y1="2.6" x2="1050.26" y2="9.8" stroke="#000000" stroke-width="3.2" />
<line x1="1078.47" y1="2.6" x2="1078.47" y2="9.8" stroke="#000000" stroke-width="3.2" />
<line x1="1101.52" y1="2.6" x2="1101.52" y2="9.8" stroke="#000000" stroke-width="3.2" />
<line x1="1121.01" y1="2.6" x2="1121.01" y2="9.8" stroke="#000000" stroke-width="3.2" />
<line x1="1137.89" y1="2.6" x2="1137.89" y2="9.8" stroke="#000000" stroke-width="3.2" />
<line x1="1152.78" y1="2.6" x2="1152.78" y2="9.8" stroke="#000000" stroke-width="3.2" />
<line x1="1166.1" y1="2.6" x2="1166.1" y2="17.6" stroke="#000000" stroke-width="3.2" />
<line x1="1253.73" y1="2.6" x2="1253.73" y2="9.8" stroke="#000000" stroke-width="3.2" />
<line x1="1304.99" y1="2.6" x2="1304.99" y2="9.8" stroke="#000000" stroke-width="3.2" />
<line x1="1341.36" y1="2.6" x2="1341.36" y2="9.8" stroke="#000000" stroke-width="3.2" />
<line x1="1369.57" y1="2.6" x2="1369.57" y2="9.8" stroke="#000000" stroke-width="3.2" />
<line x1="1392.62" y1="2.6" x2="1392.62" y2="9.8" stroke="#000000" stroke-width="3.2" />
<line x1="1412.11" y1="2.6" x2="1412.11" y2="9.8" stroke="#000000" stroke-width="3.2" />
<line x1="1428.99" y1="2.6" x2="1428.99" y2="9.8" stroke="#000000" stroke-width="3.2" />
<line x1="1443.88" y1="2.6" x2="1443.88" y2="9.8" stroke="#000000" stroke-width="3.2" />
<line x1="962.63" y1="362.3" x2="962.63" y2="374.7" stroke="#000000" stroke-width="3.2" />
<line x1="1101.52" y1="362.3" x2="1101.52" y2="374.7" stroke="#000000" stroke-width="3.2" />
<line x1="1121.01" y1="362.3" x2="1121.01" y2="374.7" stroke="#000000" stroke-width="3.2" />
<line x1="1137.89" y1="362.3" x2="1137.89" y2="374.7" stroke="#000000" stroke-width="3.2" />
<line x1="1152.78" y1="362.3" x2="1152.78" y2="374.7" stroke="#000000" stroke-width="3.2" />
<line x1="1166.1" y1="355.2" x2="1166.1" y2="381.8" stroke="#000000" stroke-width="3.2" />
<line x1="1253.73" y1="362.3" x2="1253.73" y2="374.7" stroke="#000000" stroke-width="3.2" />
<line x1="1304.99" y1="362.3" x2="1304.99" y2="374.7" stroke="#000000" stroke-width="3.2" />
<line x1="1341.36" y1="362.3" x2="1341.36" y2="374.7" stroke="#000000" stroke-width="3.2" />
<line x1="1369.57" y1="362.3" x2="1369.57" y2="374.7" stroke="#000000" stroke-width="3.2" />
<line x1="1392.62" y1="362.3" x2="1392.62" y2="374.7" stroke="#000000" stroke-width="3.2" />
<line x1="1412.11" y1="362.3" x2="1412.11" y2="374.7" stroke="#000000" stroke-width="3.2" />
<line x1="1428.99" y1="362.3" x2="1428.99" y2="374.7" stroke="#000000" stroke-width="3.2" />
<line x1="1443.88" y1="362.3" x2="1443.88" y2="374.7" stroke="#000000" stroke-width="3.2" />
<line x1="875" y1="307.88" x2="890" y2="307.88" stroke="#000000" stroke-width="3.2" />
<line x1="1457.2" y1="307.88" x2="1442.2" y2="307.88" stroke="#000000" stroke-width="3.2" />
<line x1="875" y1="247.26" x2="890" y2="247.26" stroke="#000000" stroke-width="3.2" />
<line x1="1457.2" y1="247.26" x2="1442.2" y2="247.26" stroke="#000000" stroke-width="3.2" />
<line x1="875" y1="186.64" x2="890" y2="186.64" stroke="#000000" stroke-width="3.2" />
<line x1="1457.2" y1="186.64" x2="1442.2" y2="186.64" stroke="#000000" stroke-width="3.2" />
<line x1="875" y1="126.02" x2="890" y2="126.02" stroke="#000000" stroke-width="3.2" />
<line x1="1457.2" y1="126.02" x2="1442.2" y2="126.02" stroke="#000000" stroke-width="3.2" />
<line x1="875" y1="65.4" x2="890" y2="65.4" stroke="#000000" stroke-width="3.2" />
<line x1="1457.2" y1="65.4" x2="1442.2" y2="65.4" stroke="#000000" stroke-width="3.2" />
<line x1="962.63" y1="697.5" x2="962.63" y2="690.3" stroke="#000000" stroke-width="3.2" />
<line x1="1013.89" y1="697.5" x2="1013.89" y2="690.3" stroke="#000000" stroke-width="3.2" />
<line x1="1050.26" y1="697.5" x2="1050.26" y2="690.3" stroke="#000000" stroke-width="3.2" />
<line x1="1078.47" y1="697.5" x2="1078.47" y2="690.3" stroke="#000000" stroke-width="3.2" />
<line x1="1101.52" y1="697.5" x2="1101.52" y2="690.3" stroke="#000000" stroke-width="3.2" />
<line x1="1121.01" y1="697.5" x2="1121.01" y2="690.3" stroke="#000000" stroke-width="3.2" />
<line x1="1137.89" y1="697.5" x2="1137.89" y2="690.3" stroke="#000000" stroke-width="3.2" />
<line x1="1152.78" y1="697.5" x2="1152.78" y2="690.3" stroke="#000000" stroke-width="3.2" />
<line x1="1166.1" y1="697.5" x2="1166.1" y2="682.5" stroke="#000000" stroke-width="3.2" />
<line x1="1253.73" y1="697.5" x2="1253.73" y2="690.3" stroke="#000000" stroke-width="3.2" />
<line x1="1304.99" y1="697.5" x2="1304.99" y2="690.3" stroke="#000000" stroke-width="3.2" />
<line x1="1341.36" y1="697.5" x2="1341.36" y2="690.3" stroke="#000000" stroke-width="3.2" />
<line x1="1369.57" y1="697.5" x2="1369.57" y2="690.3" stroke="#000000" stroke-width="3.2" />
<line x1="1392.62" y1="697.5" x2="1392.62" y2="690.3" stroke="#000000" stroke-width="3.2" />
<line x1="1412.11" y1="697.5" x2="1412.11" y2="690.3" stroke="#000000" stroke-width="3.2" />
<line x1="1428.99" y1="697.5" x2="1428.99" y2="690.3" stroke="#000000" stroke-width="3.2" />
<line x1="1443.88" y1="697.5" x2="1443.88" y2="690.3" stroke="#000000" stroke-width="3.2" />
<line x1="875" y1="606.75" x2="890" y2="606.75" stroke="#000000" stroke-width="3.2" />
<line x1="1457.2" y1="606.75" x2="1442.2" y2="606.75" stroke="#000000" stroke-width="3.2" />
<line x1="875" y1="516" x2="890" y2="516" stroke="#000000" stroke-width="3.2" />
<line x1="1457.2" y1="516" x2="1442.2" y2="516" stroke="#000000" stroke-width="3.2" />
<line x1="875" y1="425.25" x2="890" y2="425.25" stroke="#000000" stroke-width="3.2" />
<line x1="1457.2" y1="425.25" x2="1442.2" y2="425.25" stroke="#000000" stroke-width="3.2" />
<rect x="875" y="2.6" width="582.2" height="694.9" fill="none" stroke="#000" stroke-width="5.5"/>
<line x1="875" y1="368.5" x2="1457.2" y2="368.5" stroke="#000000" stroke-width="4.3" />
<path d="M873.3,336.32 C873.8,336.16 875.31,335.7 876.31,335.38 C877.31,335.07 878.31,334.76 879.32,334.45 C880.32,334.13 881.32,333.82 882.33,333.51 C883.33,333.2 884.33,332.89 885.34,332.58 C886.34,332.27 887.34,331.96 888.34,331.64 C889.35,331.33 890.35,331.02 891.35,330.71 C892.36,330.4 893.36,330.1 894.36,329.79 C895.36,329.48 896.37,329.17 897.37,328.86 C898.37,328.55 899.38,328.25 900.38,327.94 C901.38,327.63 902.38,327.33 903.39,327.02 C904.39,326.72 905.39,326.41 906.4,326.11 C907.4,325.8 908.4,325.5 909.41,325.2 C910.41,324.89 911.41,324.59 912.41,324.29 C913.42,323.99 914.42,323.69 915.42,323.39 C916.43,323.09 917.43,322.79 918.43,322.5 C919.43,322.2 920.44,321.9 921.44,321.61 C922.44,321.31 923.45,321.02 924.45,320.72 C925.45,320.43 926.45,320.14 927.46,319.85 C928.46,319.55 929.46,319.26 930.47,318.97 C931.47,318.69 932.47,318.4 933.48,318.11 C934.48,317.82 935.48,317.54 936.48,317.26 C937.49,316.97 938.49,316.69 939.49,316.41 C940.5,316.13 941.5,315.85 942.5,315.57 C943.5,315.29 944.51,315.01 945.51,314.74 C946.51,314.46 947.52,314.19 948.52,313.91 C949.52,313.64 950.52,313.37 951.53,313.1 C952.53,312.83 953.53,312.56 954.54,312.3 C955.54,312.03 956.54,311.77 957.55,311.5 C958.55,311.24 959.55,310.98 960.55,310.72 C961.56,310.46 962.56,310.2 963.56,309.95 C964.57,309.69 965.57,309.44 966.57,309.18 C967.57,308.93 968.58,308.68 969.58,308.43 C970.58,308.19 971.59,307.94 972.59,307.69 C973.59,307.45 974.6,307.21 975.6,306.97 C976.6,306.73 977.6,306.49 978.61,306.25 C979.61,306.02 980.61,305.78 981.62,305.55 C982.62,305.32 983.62,305.09 984.62,304.86 C985.63,304.64 986.63,304.41 987.63,304.19 C988.64,303.97 989.64,303.75 990.64,303.53 C991.64,303.31 992.65,303.1 993.65,302.88 C994.65,302.67 995.66,302.46 996.66,302.25 C997.66,302.04 998.67,301.84 999.67,301.63 C1000.67,301.43 1001.67,301.23 1002.68,301.03 C1003.68,300.83 1004.68,300.64 1005.69,300.44 C1006.69,300.25 1007.69,300.06 1008.69,299.87 C1009.7,299.68 1010.7,299.49 1011.7,299.31 C1012.71,299.12 1013.71,298.94 1014.71,298.76 C1015.71,298.58 1016.72,298.4 1017.72,298.22 C1018.72,298.05 1019.73,297.87 1020.73,297.7 C1021.73,297.52 1022.74,297.35 1023.74,297.18 C1024.74,297.01 1025.74,296.84 1026.75,296.67 C1027.75,296.5 1028.75,296.33 1029.76,296.17 C1030.76,296 1031.76,295.84 1032.76,295.67 C1033.77,295.51 1034.77,295.35 1035.77,295.19 C1036.78,295.02 1037.78,294.86 1038.78,294.7 C1039.78,294.54 1040.79,294.38 1041.79,294.22 C1042.79,294.06 1043.8,293.9 1044.8,293.75 C1045.8,293.59 1046.81,293.43 1047.81,293.27 C1048.81,293.12 1049.81,292.96 1050.82,292.8 C1051.82,292.64 1052.82,292.49 1053.83,292.33 C1054.83,292.17 1055.83,292.02 1056.83,291.86 C1057.84,291.7 1058.84,291.54 1059.84,291.39 C1060.85,291.23 1061.85,291.07 1062.85,290.91 C1063.85,290.75 1064.86,290.59 1065.86,290.43 C1066.86,290.27 1067.87,290.11 1068.87,289.95 C1069.87,289.79 1070.88,289.63 1071.88,289.47 C1072.88,289.31 1073.88,289.14 1074.89,288.98 C1075.89,288.82 1076.89,288.65 1077.9,288.48 C1078.9,288.32 1079.9,288.15 1080.9,287.98 C1081.91,287.81 1082.91,287.64 1083.91,287.47 C1084.92,287.3 1085.92,287.13 1086.92,286.96 C1087.93,286.78 1088.93,286.61 1089.93,286.43 C1090.93,286.25 1091.94,286.08 1092.94,285.9 C1093.94,285.72 1094.95,285.53 1095.95,285.35 C1096.95,285.17 1097.95,284.98 1098.96,284.79 C1099.96,284.61 1100.96,284.42 1101.97,284.23 C1102.97,284.03 1103.97,283.84 1104.97,283.65 C1105.98,283.45 1106.98,283.25 1107.98,283.05 C1108.99,282.85 1109.99,282.65 1110.99,282.44 C1112,282.24 1113,282.03 1114,281.82 C1115,281.61 1116.01,281.4 1117.01,281.18 C1118.01,280.96 1119.02,280.75 1120.02,280.53 C1121.02,280.3 1122.02,280.08 1123.03,279.85 C1124.03,279.63 1125.03,279.4 1126.04,279.16 C1127.04,278.93 1128.04,278.69 1129.04,278.45 C1130.05,278.21 1131.05,277.97 1132.05,277.73 C1133.06,277.48 1134.06,277.23 1135.06,276.98 C1136.07,276.72 1137.07,276.47 1138.07,276.21 C1139.07,275.95 1140.08,275.69 1141.08,275.42 C1142.08,275.15 1143.09,274.89 1144.09,274.61 C1145.09,274.34 1146.09,274.07 1147.1,273.79 C1148.1,273.52 1149.1,273.24 1150.11,272.96 C1151.11,272.67 1152.11,272.39 1153.11,272.11 C1154.12,271.82 1155.12,271.53 1156.12,271.24 C1157.13,270.96 1158.13,270.66 1159.13,270.37 C1160.14,270.08 1161.14,269.79 1162.14,269.49 C1163.14,269.2 1164.15,268.9 1165.15,268.6 C1166.15,268.31 1167.16,268.01 1168.16,267.71 C1169.16,267.41 1170.16,267.11 1171.17,266.81 C1172.17,266.51 1173.17,266.21 1174.18,265.91 C1175.18,265.61 1176.18,265.31 1177.19,265.01 C1178.19,264.71 1179.19,264.41 1180.19,264.11 C1181.2,263.81 1182.2,263.51 1183.2,263.21 C1184.21,262.91 1185.21,262.62 1186.21,262.32 C1187.21,262.02 1188.22,261.72 1189.22,261.43 C1190.22,261.13 1191.23,260.84 1192.23,260.54 C1193.23,260.25 1194.23,259.96 1195.24,259.67 C1196.24,259.37 1197.24,259.09 1198.25,258.8 C1199.25,258.51 1200.25,258.22 1201.26,257.94 C1202.26,257.66 1203.26,257.38 1204.26,257.1 C1205.27,256.82 1206.27,256.54 1207.27,256.27 C1208.28,255.99 1209.28,255.72 1210.28,255.45 C1211.28,255.18 1212.29,254.92 1213.29,254.65 C1214.29,254.39 1215.3,254.13 1216.3,253.87 C1217.3,253.62 1218.3,253.36 1219.31,253.11 C1220.31,252.86 1221.31,252.61 1222.32,252.37 C1223.32,252.12 1224.32,251.88 1225.33,251.64 C1226.33,251.41 1227.33,251.17 1228.33,250.94 C1229.34,250.71 1230.34,250.48 1231.34,250.25 C1232.35,250.02 1233.35,249.8 1234.35,249.58 C1235.35,249.36 1236.36,249.14 1237.36,248.93 C1238.36,248.72 1239.37,248.5 1240.37,248.3 C1241.37,248.09 1242.37,247.88 1243.38,247.68 C1244.38,247.48 1245.38,247.28 1246.39,247.09 C1247.39,246.89 1248.39,246.7 1249.4,246.51 C1250.4,246.32 1251.4,246.13 1252.4,245.95 C1253.41,245.76 1254.41,245.58 1255.41,245.41 C1256.42,245.23 1257.42,245.05 1258.42,244.88 C1259.42,244.71 1260.43,244.54 1261.43,244.38 C1262.43,244.21 1263.44,244.05 1264.44,243.89 C1265.44,243.73 1266.45,243.58 1267.45,243.42 C1268.45,243.27 1269.45,243.12 1270.46,242.97 C1271.46,242.82 1272.46,242.68 1273.47,242.54 C1274.47,242.4 1275.47,242.26 1276.47,242.13 C1277.48,241.99 1278.48,241.86 1279.48,241.73 C1280.49,241.6 1281.49,241.47 1282.49,241.35 C1283.49,241.23 1284.5,241.11 1285.5,240.99 C1286.5,240.87 1287.51,240.76 1288.51,240.65 C1289.51,240.54 1290.52,240.43 1291.52,240.32 C1292.52,240.22 1293.52,240.12 1294.53,240.02 C1295.53,239.92 1296.53,239.82 1297.54,239.73 C1298.54,239.64 1299.54,239.55 1300.54,239.46 C1301.55,239.37 1302.55,239.29 1303.55,239.21 C1304.56,239.13 1305.56,239.05 1306.56,238.97 C1307.56,238.9 1308.57,238.83 1309.57,238.76 C1310.57,238.69 1311.58,238.62 1312.58,238.56 C1313.58,238.5 1314.59,238.43 1315.59,238.38 C1316.59,238.32 1317.59,238.27 1318.6,238.21 C1319.6,238.16 1320.6,238.11 1321.61,238.07 C1322.61,238.02 1323.61,237.98 1324.61,237.94 C1325.62,237.9 1326.62,237.87 1327.62,237.83 C1328.63,237.8 1329.63,237.77 1330.63,237.74 C1331.63,237.71 1332.64,237.69 1333.64,237.67 C1334.64,237.64 1335.65,237.63 1336.65,237.61 C1337.65,237.59 1338.66,237.58 1339.66,237.57 C1340.66,237.56 1341.66,237.55 1342.67,237.55 C1343.67,237.55 1344.67,237.55 1345.68,237.55 C1346.68,237.55 1347.68,237.55 1348.68,237.56 C1349.69,237.57 1350.69,237.58 1351.69,237.59 C1352.7,237.61 1353.7,237.62 1354.7,237.64 C1355.7,237.66 1356.71,237.68 1357.71,237.71 C1358.71,237.73 1359.72,237.76 1360.72,237.79 C1361.72,237.83 1362.73,237.86 1363.73,237.9 C1364.73,237.93 1365.73,237.97 1366.74,238.02 C1367.74,238.06 1368.74,238.1 1369.75,238.15 C1370.75,238.2 1371.75,238.25 1372.75,238.31 C1373.76,238.36 1374.76,238.42 1375.76,238.48 C1376.77,238.54 1377.77,238.6 1378.77,238.67 C1379.78,238.73 1380.78,238.8 1381.78,238.88 C1382.78,238.95 1383.79,239.02 1384.79,239.1 C1385.79,239.18 1386.8,239.26 1387.8,239.34 C1388.8,239.43 1389.8,239.51 1390.81,239.6 C1391.81,239.69 1392.81,239.78 1393.82,239.88 C1394.82,239.97 1395.82,240.07 1396.82,240.17 C1397.83,240.27 1398.83,240.38 1399.83,240.48 C1400.84,240.59 1401.84,240.7 1402.84,240.81 C1403.85,240.92 1404.85,241.04 1405.85,241.16 C1406.85,241.27 1407.86,241.39 1408.86,241.52 C1409.86,241.64 1410.87,241.77 1411.87,241.9 C1412.87,242.03 1413.87,242.16 1414.88,242.3 C1415.88,242.43 1416.88,242.57 1417.89,242.71 C1418.89,242.85 1419.89,242.99 1420.89,243.14 C1421.9,243.29 1422.9,243.44 1423.9,243.59 C1424.91,243.74 1425.91,243.9 1426.91,244.06 C1427.92,244.21 1428.92,244.37 1429.92,244.54 C1430.92,244.7 1431.93,244.87 1432.93,245.04 C1433.93,245.21 1434.94,245.38 1435.94,245.56 C1436.94,245.73 1437.94,245.91 1438.95,246.09 C1439.95,246.27 1440.95,246.45 1441.96,246.64 C1442.96,246.83 1443.96,247.02 1444.96,247.21 C1445.97,247.4 1446.97,247.6 1447.97,247.79 C1448.98,247.99 1449.98,248.19 1450.98,248.4 C1451.99,248.6 1452.99,248.81 1453.99,249.01 C1454.99,249.22 1456.5,249.54 1457,249.65" fill="none" stroke="#ff0000" stroke-width="3" stroke-linecap="butt" stroke-linejoin="round" clip-path="url(#clipC)"/>
<path d="M873.3,334.46 C873.8,334.35 875.31,334.04 876.31,333.82 C877.31,333.6 878.31,333.38 879.32,333.16 C880.32,332.93 881.32,332.71 882.33,332.48 C883.33,332.25 884.33,332.02 885.34,331.78 C886.34,331.55 887.34,331.31 888.34,331.07 C889.35,330.83 890.35,330.58 891.35,330.34 C892.36,330.09 893.36,329.84 894.36,329.59 C895.36,329.34 896.37,329.08 897.37,328.83 C898.37,328.57 899.38,328.31 900.38,328.05 C901.38,327.78 902.38,327.52 903.39,327.25 C904.39,326.98 905.39,326.71 906.4,326.44 C907.4,326.16 908.4,325.89 909.41,325.61 C910.41,325.33 911.41,325.05 912.41,324.76 C913.42,324.48 914.42,324.19 915.42,323.9 C916.43,323.61 917.43,323.32 918.43,323.03 C919.43,322.73 920.44,322.44 921.44,322.14 C922.44,321.84 923.45,321.54 924.45,321.23 C925.45,320.93 926.45,320.62 927.46,320.32 C928.46,320.01 929.46,319.7 930.47,319.38 C931.47,319.07 932.47,318.75 933.48,318.44 C934.48,318.12 935.48,317.8 936.48,317.48 C937.49,317.15 938.49,316.83 939.49,316.5 C940.5,316.18 941.5,315.85 942.5,315.52 C943.5,315.18 944.51,314.85 945.51,314.52 C946.51,314.18 947.52,313.84 948.52,313.5 C949.52,313.16 950.52,312.82 951.53,312.48 C952.53,312.13 953.53,311.79 954.54,311.44 C955.54,311.09 956.54,310.74 957.55,310.39 C958.55,310.04 959.55,309.68 960.55,309.33 C961.56,308.97 962.56,308.61 963.56,308.25 C964.57,307.9 965.57,307.53 966.57,307.17 C967.57,306.81 968.58,306.44 969.58,306.07 C970.58,305.71 971.59,305.34 972.59,304.97 C973.59,304.6 974.6,304.22 975.6,303.85 C976.6,303.48 977.6,303.1 978.61,302.72 C979.61,302.35 980.61,301.97 981.62,301.58 C982.62,301.2 983.62,300.82 984.62,300.44 C985.63,300.05 986.63,299.67 987.63,299.28 C988.64,298.89 989.64,298.5 990.64,298.11 C991.64,297.72 992.65,297.33 993.65,296.93 C994.65,296.54 995.66,296.15 996.66,295.75 C997.66,295.35 998.67,294.95 999.67,294.55 C1000.67,294.15 1001.67,293.75 1002.68,293.35 C1003.68,292.95 1004.68,292.54 1005.69,292.14 C1006.69,291.73 1007.69,291.33 1008.69,290.92 C1009.7,290.51 1010.7,290.1 1011.7,289.69 C1012.71,289.28 1013.71,288.87 1014.71,288.46 C1015.71,288.04 1016.72,287.63 1017.72,287.21 C1018.72,286.8 1019.73,286.38 1020.73,285.96 C1021.73,285.54 1022.74,285.13 1023.74,284.7 C1024.74,284.28 1025.74,283.86 1026.75,283.44 C1027.75,283.02 1028.75,282.59 1029.76,282.17 C1030.76,281.75 1031.76,281.32 1032.76,280.89 C1033.77,280.47 1034.77,280.04 1035.77,279.61 C1036.78,279.18 1037.78,278.75 1038.78,278.32 C1039.78,277.89 1040.79,277.46 1041.79,277.03 C1042.79,276.6 1043.8,276.16 1044.8,275.73 C1045.8,275.3 1046.81,274.86 1047.81,274.43 C1048.81,274 1049.81,273.56 1050.82,273.13 C1051.82,272.69 1052.82,272.26 1053.83,271.82 C1054.83,271.38 1055.83,270.95 1056.83,270.51 C1057.84,270.08 1058.84,269.64 1059.84,269.2 C1060.85,268.77 1061.85,268.33 1062.85,267.9 C1063.85,267.46 1064.86,267.02 1065.86,266.59 C1066.86,266.15 1067.87,265.72 1068.87,265.28 C1069.87,264.84 1070.88,264.41 1071.88,263.97 C1072.88,263.54 1073.88,263.1 1074.89,262.67 C1075.89,262.24 1076.89,261.8 1077.9,261.37 C1078.9,260.94 1079.9,260.51 1080.9,260.07 C1081.91,259.64 1082.91,259.21 1083.91,258.78 C1084.92,258.35 1085.92,257.92 1086.92,257.49 C1087.93,257.07 1088.93,256.64 1089.93,256.21 C1090.93,255.79 1091.94,255.36 1092.94,254.94 C1093.94,254.51 1094.95,254.09 1095.95,253.67 C1096.95,253.25 1097.95,252.83 1098.96,252.41 C1099.96,251.99 1100.96,251.57 1101.97,251.15 C1102.97,250.74 1103.97,250.32 1104.97,249.91 C1105.98,249.5 1106.98,249.08 1107.98,248.68 C1108.99,248.27 1109.99,247.86 1110.99,247.45 C1112,247.04 1113,246.64 1114,246.24 C1115,245.83 1116.01,245.43 1117.01,245.03 C1118.01,244.64 1119.02,244.24 1120.02,243.84 C1121.02,243.45 1122.02,243.06 1123.03,242.67 C1124.03,242.28 1125.03,241.89 1126.04,241.5 C1127.04,241.12 1128.04,240.73 1129.04,240.35 C1130.05,239.97 1131.05,239.59 1132.05,239.22 C1133.06,238.84 1134.06,238.47 1135.06,238.1 C1136.07,237.73 1137.07,237.36 1138.07,236.99 C1139.07,236.63 1140.08,236.26 1141.08,235.91 C1142.08,235.55 1143.09,235.19 1144.09,234.83 C1145.09,234.48 1146.09,234.13 1147.1,233.78 C1148.1,233.43 1149.1,233.09 1150.11,232.75 C1151.11,232.41 1152.11,232.07 1153.11,231.73 C1154.12,231.4 1155.12,231.07 1156.12,230.74 C1157.13,230.41 1158.13,230.09 1159.13,229.77 C1160.14,229.44 1161.14,229.13 1162.14,228.81 C1163.14,228.5 1164.15,228.19 1165.15,227.88 C1166.15,227.57 1167.16,227.27 1168.16,226.97 C1169.16,226.67 1170.16,226.38 1171.17,226.09 C1172.17,225.8 1173.17,225.51 1174.18,225.23 C1175.18,224.94 1176.18,224.66 1177.19,224.39 C1178.19,224.11 1179.19,223.84 1180.19,223.58 C1181.2,223.31 1182.2,223.05 1183.2,222.79 C1184.21,222.53 1185.21,222.28 1186.21,222.03 C1187.21,221.78 1188.22,221.53 1189.22,221.29 C1190.22,221.05 1191.23,220.82 1192.23,220.59 C1193.23,220.35 1194.23,220.13 1195.24,219.9 C1196.24,219.68 1197.24,219.46 1198.25,219.25 C1199.25,219.03 1200.25,218.82 1201.26,218.62 C1202.26,218.41 1203.26,218.21 1204.26,218.01 C1205.27,217.81 1206.27,217.62 1207.27,217.43 C1208.28,217.24 1209.28,217.06 1210.28,216.88 C1211.28,216.7 1212.29,216.52 1213.29,216.35 C1214.29,216.18 1215.3,216.01 1216.3,215.85 C1217.3,215.68 1218.3,215.53 1219.31,215.37 C1220.31,215.22 1221.31,215.07 1222.32,214.92 C1223.32,214.77 1224.32,214.63 1225.33,214.49 C1226.33,214.36 1227.33,214.22 1228.33,214.09 C1229.34,213.96 1230.34,213.84 1231.34,213.72 C1232.35,213.6 1233.35,213.48 1234.35,213.37 C1235.35,213.25 1236.36,213.15 1237.36,213.04 C1238.36,212.94 1239.37,212.84 1240.37,212.74 C1241.37,212.65 1242.37,212.56 1243.38,212.47 C1244.38,212.38 1245.38,212.3 1246.39,212.22 C1247.39,212.14 1248.39,212.06 1249.4,211.99 C1250.4,211.92 1251.4,211.86 1252.4,211.79 C1253.41,211.73 1254.41,211.67 1255.41,211.62 C1256.42,211.57 1257.42,211.52 1258.42,211.47 C1259.42,211.42 1260.43,211.38 1261.43,211.35 C1262.43,211.31 1263.44,211.27 1264.44,211.25 C1265.44,211.22 1266.45,211.19 1267.45,211.17 C1268.45,211.15 1269.45,211.13 1270.46,211.12 C1271.46,211.11 1272.46,211.1 1273.47,211.09 C1274.47,211.09 1275.47,211.09 1276.47,211.09 C1277.48,211.1 1278.48,211.1 1279.48,211.11 C1280.49,211.13 1281.49,211.14 1282.49,211.16 C1283.49,211.18 1284.5,211.21 1285.5,211.23 C1286.5,211.26 1287.51,211.29 1288.51,211.33 C1289.51,211.37 1290.52,211.41 1291.52,211.45 C1292.52,211.49 1293.52,211.54 1294.53,211.6 C1295.53,211.65 1296.53,211.7 1297.54,211.76 C1298.54,211.82 1299.54,211.89 1300.54,211.96 C1301.55,212.03 1302.55,212.1 1303.55,212.17 C1304.56,212.25 1305.56,212.33 1306.56,212.42 C1307.56,212.5 1308.57,212.59 1309.57,212.68 C1310.57,212.77 1311.58,212.87 1312.58,212.97 C1313.58,213.07 1314.59,213.17 1315.59,213.28 C1316.59,213.39 1317.59,213.5 1318.6,213.62 C1319.6,213.74 1320.6,213.86 1321.61,213.98 C1322.61,214.1 1323.61,214.23 1324.61,214.37 C1325.62,214.5 1326.62,214.63 1327.62,214.77 C1328.63,214.91 1329.63,215.06 1330.63,215.2 C1331.63,215.35 1332.64,215.5 1333.64,215.66 C1334.64,215.82 1335.65,215.98 1336.65,216.14 C1337.65,216.3 1338.66,216.47 1339.66,216.64 C1340.66,216.81 1341.66,216.99 1342.67,217.17 C1343.67,217.35 1344.67,217.53 1345.68,217.72 C1346.68,217.9 1347.68,218.09 1348.68,218.29 C1349.69,218.48 1350.69,218.68 1351.69,218.88 C1352.7,219.09 1353.7,219.29 1354.7,219.5 C1355.7,219.71 1356.71,219.92 1357.71,220.14 C1358.71,220.35 1359.72,220.57 1360.72,220.79 C1361.72,221.02 1362.73,221.24 1363.73,221.47 C1364.73,221.7 1365.73,221.93 1366.74,222.17 C1367.74,222.4 1368.74,222.64 1369.75,222.88 C1370.75,223.12 1371.75,223.36 1372.75,223.61 C1373.76,223.86 1374.76,224.11 1375.76,224.36 C1376.77,224.61 1377.77,224.86 1378.77,225.12 C1379.78,225.38 1380.78,225.64 1381.78,225.9 C1382.78,226.16 1383.79,226.42 1384.79,226.69 C1385.79,226.96 1386.8,227.22 1387.8,227.49 C1388.8,227.77 1389.8,228.04 1390.81,228.31 C1391.81,228.59 1392.81,228.86 1393.82,229.14 C1394.82,229.42 1395.82,229.7 1396.82,229.98 C1397.83,230.27 1398.83,230.55 1399.83,230.84 C1400.84,231.12 1401.84,231.41 1402.84,231.7 C1403.85,231.99 1404.85,232.28 1405.85,232.57 C1406.85,232.86 1407.86,233.15 1408.86,233.45 C1409.86,233.74 1410.87,234.04 1411.87,234.34 C1412.87,234.63 1413.87,234.93 1414.88,235.23 C1415.88,235.53 1416.88,235.83 1417.89,236.13 C1418.89,236.43 1419.89,236.73 1420.89,237.03 C1421.9,237.34 1422.9,237.64 1423.9,237.94 C1424.91,238.25 1425.91,238.55 1426.91,238.86 C1427.92,239.16 1428.92,239.47 1429.92,239.77 C1430.92,240.08 1431.93,240.39 1432.93,240.69 C1433.93,241 1434.94,241.31 1435.94,241.61 C1436.94,241.92 1437.94,242.23 1438.95,242.54 C1439.95,242.84 1440.95,243.15 1441.96,243.46 C1442.96,243.77 1443.96,244.07 1444.96,244.38 C1445.97,244.69 1446.97,244.99 1447.97,245.3 C1448.98,245.61 1449.98,245.91 1450.98,246.22 C1451.99,246.52 1452.99,246.83 1453.99,247.13 C1454.99,247.44 1456.5,247.89 1457,248.04" fill="none" stroke="#0000ff" stroke-width="3" stroke-linecap="butt" stroke-linejoin="round" clip-path="url(#clipC)"/>
<path d="M873.3,334.47 C873.8,334.31 875.31,333.83 876.31,333.52 C877.31,333.2 878.31,332.89 879.32,332.58 C880.32,332.26 881.32,331.95 882.33,331.64 C883.33,331.33 884.33,331.02 885.34,330.71 C886.34,330.4 887.34,330.09 888.34,329.78 C889.35,329.48 890.35,329.17 891.35,328.86 C892.36,328.56 893.36,328.25 894.36,327.95 C895.36,327.64 896.37,327.34 897.37,327.04 C898.37,326.74 899.38,326.43 900.38,326.13 C901.38,325.83 902.38,325.53 903.39,325.23 C904.39,324.93 905.39,324.63 906.4,324.33 C907.4,324.03 908.4,323.74 909.41,323.44 C910.41,323.14 911.41,322.85 912.41,322.55 C913.42,322.25 914.42,321.96 915.42,321.66 C916.43,321.37 917.43,321.07 918.43,320.78 C919.43,320.49 920.44,320.19 921.44,319.9 C922.44,319.61 923.45,319.32 924.45,319.03 C925.45,318.73 926.45,318.44 927.46,318.15 C928.46,317.86 929.46,317.57 930.47,317.28 C931.47,316.99 932.47,316.7 933.48,316.42 C934.48,316.13 935.48,315.84 936.48,315.55 C937.49,315.26 938.49,314.98 939.49,314.69 C940.5,314.4 941.5,314.11 942.5,313.83 C943.5,313.54 944.51,313.26 945.51,312.97 C946.51,312.68 947.52,312.4 948.52,312.11 C949.52,311.83 950.52,311.54 951.53,311.26 C952.53,310.97 953.53,310.69 954.54,310.4 C955.54,310.12 956.54,309.84 957.55,309.55 C958.55,309.27 959.55,308.98 960.55,308.7 C961.56,308.42 962.56,308.13 963.56,307.85 C964.57,307.57 965.57,307.28 966.57,307 C967.57,306.72 968.58,306.43 969.58,306.15 C970.58,305.87 971.59,305.59 972.59,305.3 C973.59,305.02 974.6,304.74 975.6,304.45 C976.6,304.17 977.6,303.89 978.61,303.61 C979.61,303.32 980.61,303.04 981.62,302.76 C982.62,302.47 983.62,302.19 984.62,301.91 C985.63,301.63 986.63,301.34 987.63,301.06 C988.64,300.78 989.64,300.49 990.64,300.21 C991.64,299.93 992.65,299.64 993.65,299.36 C994.65,299.08 995.66,298.79 996.66,298.51 C997.66,298.22 998.67,297.94 999.67,297.65 C1000.67,297.37 1001.67,297.09 1002.68,296.8 C1003.68,296.52 1004.68,296.23 1005.69,295.94 C1006.69,295.66 1007.69,295.37 1008.69,295.09 C1009.7,294.8 1010.7,294.51 1011.7,294.23 C1012.71,293.94 1013.71,293.65 1014.71,293.37 C1015.71,293.08 1016.72,292.79 1017.72,292.5 C1018.72,292.21 1019.73,291.93 1020.73,291.64 C1021.73,291.35 1022.74,291.06 1023.74,290.77 C1024.74,290.48 1025.74,290.19 1026.75,289.9 C1027.75,289.61 1028.75,289.31 1029.76,289.02 C1030.76,288.73 1031.76,288.44 1032.76,288.14 C1033.77,287.85 1034.77,287.56 1035.77,287.26 C1036.78,286.97 1037.78,286.68 1038.78,286.38 C1039.78,286.08 1040.79,285.79 1041.79,285.49 C1042.79,285.19 1043.8,284.9 1044.8,284.6 C1045.8,284.3 1046.81,284 1047.81,283.7 C1048.81,283.4 1049.81,283.09 1050.82,282.79 C1051.82,282.49 1052.82,282.18 1053.83,281.88 C1054.83,281.57 1055.83,281.27 1056.83,280.96 C1057.84,280.65 1058.84,280.34 1059.84,280.03 C1060.85,279.72 1061.85,279.41 1062.85,279.1 C1063.85,278.78 1064.86,278.47 1065.86,278.15 C1066.86,277.83 1067.87,277.52 1068.87,277.2 C1069.87,276.88 1070.88,276.55 1071.88,276.23 C1072.88,275.91 1073.88,275.58 1074.89,275.26 C1075.89,274.93 1076.89,274.6 1077.9,274.27 C1078.9,273.94 1079.9,273.6 1080.9,273.27 C1081.91,272.93 1082.91,272.6 1083.91,272.26 C1084.92,271.92 1085.92,271.58 1086.92,271.23 C1087.93,270.89 1088.93,270.54 1089.93,270.19 C1090.93,269.85 1091.94,269.5 1092.94,269.14 C1093.94,268.79 1094.95,268.43 1095.95,268.07 C1096.95,267.72 1097.95,267.36 1098.96,266.99 C1099.96,266.63 1100.96,266.26 1101.97,265.89 C1102.97,265.52 1103.97,265.15 1104.97,264.78 C1105.98,264.4 1106.98,264.03 1107.98,263.65 C1108.99,263.26 1109.99,262.88 1110.99,262.49 C1112,262.11 1113,261.72 1114,261.33 C1115,260.93 1116.01,260.54 1117.01,260.14 C1118.01,259.74 1119.02,259.34 1120.02,258.93 C1121.02,258.53 1122.02,258.12 1123.03,257.71 C1124.03,257.29 1125.03,256.88 1126.04,256.46 C1127.04,256.04 1128.04,255.62 1129.04,255.19 C1130.05,254.76 1131.05,254.33 1132.05,253.9 C1133.06,253.47 1134.06,253.03 1135.06,252.59 C1136.07,252.14 1137.07,251.7 1138.07,251.25 C1139.07,250.8 1140.08,250.35 1141.08,249.89 C1142.08,249.44 1143.09,248.98 1144.09,248.52 C1145.09,248.05 1146.09,247.59 1147.1,247.12 C1148.1,246.65 1149.1,246.18 1150.11,245.71 C1151.11,245.23 1152.11,244.75 1153.11,244.27 C1154.12,243.79 1155.12,243.31 1156.12,242.82 C1157.13,242.34 1158.13,241.85 1159.13,241.36 C1160.14,240.87 1161.14,240.38 1162.14,239.88 C1163.14,239.39 1164.15,238.89 1165.15,238.39 C1166.15,237.9 1167.16,237.4 1168.16,236.89 C1169.16,236.39 1170.16,235.89 1171.17,235.38 C1172.17,234.88 1173.17,234.37 1174.18,233.86 C1175.18,233.35 1176.18,232.84 1177.19,232.33 C1178.19,231.82 1179.19,231.31 1180.19,230.79 C1181.2,230.28 1182.2,229.77 1183.2,229.25 C1184.21,228.73 1185.21,228.22 1186.21,227.7 C1187.21,227.19 1188.22,226.67 1189.22,226.15 C1190.22,225.63 1191.23,225.11 1192.23,224.6 C1193.23,224.08 1194.23,223.56 1195.24,223.04 C1196.24,222.52 1197.24,222 1198.25,221.48 C1199.25,220.96 1200.25,220.44 1201.26,219.93 C1202.26,219.41 1203.26,218.89 1204.26,218.37 C1205.27,217.85 1206.27,217.34 1207.27,216.82 C1208.28,216.3 1209.28,215.79 1210.28,215.27 C1211.28,214.76 1212.29,214.24 1213.29,213.73 C1214.29,213.21 1215.3,212.7 1216.3,212.19 C1217.3,211.68 1218.3,211.17 1219.31,210.66 C1220.31,210.15 1221.31,209.64 1222.32,209.13 C1223.32,208.63 1224.32,208.12 1225.33,207.62 C1226.33,207.12 1227.33,206.61 1228.33,206.11 C1229.34,205.61 1230.34,205.11 1231.34,204.62 C1232.35,204.12 1233.35,203.62 1234.35,203.13 C1235.35,202.64 1236.36,202.15 1237.36,201.66 C1238.36,201.17 1239.37,200.68 1240.37,200.2 C1241.37,199.71 1242.37,199.23 1243.38,198.75 C1244.38,198.27 1245.38,197.8 1246.39,197.32 C1247.39,196.85 1248.39,196.38 1249.4,195.91 C1250.4,195.44 1251.4,194.97 1252.4,194.51 C1253.41,194.04 1254.41,193.58 1255.41,193.13 C1256.42,192.67 1257.42,192.21 1258.42,191.76 C1259.42,191.31 1260.43,190.86 1261.43,190.42 C1262.43,189.98 1263.44,189.53 1264.44,189.09 C1265.44,188.66 1266.45,188.22 1267.45,187.78 C1268.45,187.35 1269.45,186.92 1270.46,186.49 C1271.46,186.06 1272.46,185.63 1273.47,185.2 C1274.47,184.77 1275.47,184.34 1276.47,183.92 C1277.48,183.49 1278.48,183.06 1279.48,182.64 C1280.49,182.21 1281.49,181.78 1282.49,181.36 C1283.49,180.93 1284.5,180.5 1285.5,180.08 C1286.5,179.65 1287.51,179.22 1288.51,178.79 C1289.51,178.36 1290.52,177.93 1291.52,177.5 C1292.52,177.07 1293.52,176.64 1294.53,176.21 C1295.53,175.78 1296.53,175.35 1297.54,174.92 C1298.54,174.48 1299.54,174.05 1300.54,173.61 C1301.55,173.18 1302.55,172.74 1303.55,172.31 C1304.56,171.87 1305.56,171.43 1306.56,170.99 C1307.56,170.56 1308.57,170.12 1309.57,169.67 C1310.57,169.23 1311.58,168.79 1312.58,168.35 C1313.58,167.9 1314.59,167.46 1315.59,167.01 C1316.59,166.57 1317.59,166.12 1318.6,165.67 C1319.6,165.22 1320.6,164.77 1321.61,164.32 C1322.61,163.87 1323.61,163.41 1324.61,162.96 C1325.62,162.5 1326.62,162.05 1327.62,161.59 C1328.63,161.13 1329.63,160.67 1330.63,160.21 C1331.63,159.74 1332.64,159.28 1333.64,158.81 C1334.64,158.35 1335.65,157.88 1336.65,157.41 C1337.65,156.94 1338.66,156.47 1339.66,155.99 C1340.66,155.52 1341.66,155.04 1342.67,154.57 C1343.67,154.09 1344.67,153.61 1345.68,153.12 C1346.68,152.64 1347.68,152.16 1348.68,151.67 C1349.69,151.18 1350.69,150.69 1351.69,150.2 C1352.7,149.71 1353.7,149.22 1354.7,148.72 C1355.7,148.23 1356.71,147.73 1357.71,147.23 C1358.71,146.73 1359.72,146.23 1360.72,145.73 C1361.72,145.23 1362.73,144.72 1363.73,144.22 C1364.73,143.71 1365.73,143.21 1366.74,142.7 C1367.74,142.19 1368.74,141.68 1369.75,141.17 C1370.75,140.66 1371.75,140.14 1372.75,139.63 C1373.76,139.11 1374.76,138.6 1375.76,138.08 C1376.77,137.57 1377.77,137.05 1378.77,136.53 C1379.78,136.01 1380.78,135.49 1381.78,134.97 C1382.78,134.45 1383.79,133.93 1384.79,133.4 C1385.79,132.88 1386.8,132.36 1387.8,131.83 C1388.8,131.31 1389.8,130.78 1390.81,130.26 C1391.81,129.73 1392.81,129.21 1393.82,128.68 C1394.82,128.15 1395.82,127.62 1396.82,127.1 C1397.83,126.57 1398.83,126.04 1399.83,125.51 C1400.84,124.98 1401.84,124.45 1402.84,123.92 C1403.85,123.39 1404.85,122.86 1405.85,122.33 C1406.85,121.8 1407.86,121.27 1408.86,120.74 C1409.86,120.21 1410.87,119.68 1411.87,119.15 C1412.87,118.62 1413.87,118.09 1414.88,117.56 C1415.88,117.03 1416.88,116.5 1417.89,115.97 C1418.89,115.44 1419.89,114.92 1420.89,114.39 C1421.9,113.86 1422.9,113.33 1423.9,112.8 C1424.91,112.27 1425.91,111.75 1426.91,111.22 C1427.92,110.69 1428.92,110.17 1429.92,109.64 C1430.92,109.11 1431.93,108.59 1432.93,108.06 C1433.93,107.54 1434.94,107.02 1435.94,106.49 C1436.94,105.97 1437.94,105.45 1438.95,104.93 C1439.95,104.41 1440.95,103.89 1441.96,103.37 C1442.96,102.85 1443.96,102.33 1444.96,101.82 C1445.97,101.3 1446.97,100.79 1447.97,100.27 C1448.98,99.76 1449.98,99.25 1450.98,98.73 C1451.99,98.22 1452.99,97.71 1453.99,97.2 C1454.99,96.7 1456.5,95.94 1457,95.68" fill="none" stroke="#ff0000" stroke-width="3.2" stroke-linecap="butt" stroke-linejoin="round" stroke-dasharray="6.5 4" clip-path="url(#clipC)"/>
<path d="M884.5,337.07 C885,336.96 886.51,336.62 887.51,336.39 C888.52,336.16 889.52,335.93 890.53,335.69 C891.53,335.46 892.54,335.22 893.54,334.98 C894.54,334.74 895.55,334.5 896.55,334.26 C897.56,334.01 898.56,333.76 899.57,333.51 C900.57,333.27 901.57,333.01 902.58,332.76 C903.58,332.51 904.59,332.25 905.59,331.99 C906.6,331.73 907.6,331.47 908.61,331.21 C909.61,330.94 910.61,330.68 911.62,330.41 C912.62,330.14 913.63,329.87 914.63,329.6 C915.64,329.33 916.64,329.05 917.64,328.78 C918.65,328.5 919.65,328.22 920.66,327.94 C921.66,327.66 922.67,327.38 923.67,327.09 C924.68,326.81 925.68,326.52 926.68,326.23 C927.69,325.94 928.69,325.65 929.7,325.35 C930.7,325.06 931.71,324.77 932.71,324.47 C933.71,324.17 934.72,323.87 935.72,323.57 C936.73,323.27 937.73,322.96 938.74,322.66 C939.74,322.35 940.75,322.04 941.75,321.73 C942.75,321.42 943.76,321.11 944.76,320.8 C945.77,320.49 946.77,320.17 947.78,319.85 C948.78,319.54 949.79,319.22 950.79,318.9 C951.79,318.58 952.8,318.25 953.8,317.93 C954.81,317.6 955.81,317.28 956.82,316.95 C957.82,316.62 958.82,316.29 959.83,315.96 C960.83,315.63 961.84,315.3 962.84,314.96 C963.85,314.63 964.85,314.29 965.86,313.95 C966.86,313.61 967.86,313.27 968.87,312.93 C969.87,312.59 970.88,312.25 971.88,311.9 C972.89,311.56 973.89,311.21 974.89,310.86 C975.9,310.51 976.9,310.16 977.91,309.81 C978.91,309.46 979.92,309.11 980.92,308.76 C981.93,308.4 982.93,308.05 983.93,307.69 C984.94,307.33 985.94,306.97 986.95,306.61 C987.95,306.25 988.96,305.89 989.96,305.53 C990.96,305.17 991.97,304.8 992.97,304.44 C993.98,304.07 994.98,303.7 995.99,303.33 C996.99,302.97 998,302.6 999,302.23 C1000,301.85 1001.01,301.48 1002.01,301.11 C1003.02,300.74 1004.02,300.36 1005.03,299.98 C1006.03,299.61 1007.04,299.23 1008.04,298.85 C1009.04,298.47 1010.05,298.09 1011.05,297.71 C1012.06,297.33 1013.06,296.95 1014.07,296.57 C1015.07,296.18 1016.07,295.8 1017.08,295.41 C1018.08,295.03 1019.09,294.64 1020.09,294.25 C1021.1,293.87 1022.1,293.48 1023.11,293.09 C1024.11,292.7 1025.11,292.31 1026.12,291.92 C1027.12,291.52 1028.13,291.13 1029.13,290.74 C1030.14,290.34 1031.14,289.95 1032.14,289.55 C1033.15,289.16 1034.15,288.76 1035.16,288.36 C1036.16,287.97 1037.17,287.57 1038.17,287.17 C1039.18,286.77 1040.18,286.37 1041.18,285.97 C1042.19,285.57 1043.19,285.16 1044.2,284.76 C1045.2,284.36 1046.21,283.95 1047.21,283.55 C1048.21,283.15 1049.22,282.74 1050.22,282.33 C1051.23,281.93 1052.23,281.52 1053.24,281.11 C1054.24,280.71 1055.25,280.3 1056.25,279.89 C1057.25,279.48 1058.26,279.07 1059.26,278.66 C1060.27,278.25 1061.27,277.83 1062.28,277.42 C1063.28,277.01 1064.29,276.59 1065.29,276.18 C1066.29,275.77 1067.3,275.35 1068.3,274.94 C1069.31,274.52 1070.31,274.1 1071.32,273.69 C1072.32,273.27 1073.32,272.85 1074.33,272.43 C1075.33,272.01 1076.34,271.59 1077.34,271.17 C1078.35,270.75 1079.35,270.33 1080.36,269.91 C1081.36,269.49 1082.36,269.07 1083.37,268.64 C1084.37,268.22 1085.38,267.8 1086.38,267.37 C1087.39,266.95 1088.39,266.52 1089.39,266.1 C1090.4,265.67 1091.4,265.24 1092.41,264.82 C1093.41,264.39 1094.42,263.96 1095.42,263.53 C1096.43,263.1 1097.43,262.67 1098.43,262.24 C1099.44,261.81 1100.44,261.38 1101.45,260.95 C1102.45,260.52 1103.46,260.09 1104.46,259.65 C1105.46,259.22 1106.47,258.79 1107.47,258.35 C1108.48,257.92 1109.48,257.49 1110.49,257.05 C1111.49,256.61 1112.5,256.18 1113.5,255.74 C1114.5,255.31 1115.51,254.87 1116.51,254.43 C1117.52,253.99 1118.52,253.55 1119.53,253.12 C1120.53,252.68 1121.54,252.24 1122.54,251.8 C1123.54,251.36 1124.55,250.92 1125.55,250.47 C1126.56,250.03 1127.56,249.59 1128.57,249.15 C1129.57,248.71 1130.57,248.26 1131.58,247.82 C1132.58,247.38 1133.59,246.93 1134.59,246.49 C1135.6,246.04 1136.6,245.6 1137.61,245.15 C1138.61,244.71 1139.61,244.26 1140.62,243.81 C1141.62,243.37 1142.63,242.92 1143.63,242.47 C1144.64,242.03 1145.64,241.58 1146.64,241.14 C1147.65,240.69 1148.65,240.24 1149.66,239.8 C1150.66,239.35 1151.67,238.91 1152.67,238.46 C1153.68,238.02 1154.68,237.57 1155.68,237.13 C1156.69,236.68 1157.69,236.24 1158.7,235.8 C1159.7,235.36 1160.71,234.91 1161.71,234.47 C1162.71,234.03 1163.72,233.59 1164.72,233.15 C1165.73,232.72 1166.73,232.28 1167.74,231.84 C1168.74,231.41 1169.75,230.97 1170.75,230.54 C1171.75,230.11 1172.76,229.68 1173.76,229.25 C1174.77,228.82 1175.77,228.39 1176.78,227.96 C1177.78,227.54 1178.79,227.11 1179.79,226.69 C1180.79,226.27 1181.8,225.85 1182.8,225.43 C1183.81,225.01 1184.81,224.6 1185.82,224.19 C1186.82,223.77 1187.82,223.36 1188.83,222.95 C1189.83,222.55 1190.84,222.14 1191.84,221.74 C1192.85,221.34 1193.85,220.94 1194.86,220.54 C1195.86,220.14 1196.86,219.75 1197.87,219.36 C1198.87,218.97 1199.88,218.58 1200.88,218.19 C1201.89,217.81 1202.89,217.43 1203.89,217.05 C1204.9,216.67 1205.9,216.3 1206.91,215.93 C1207.91,215.56 1208.92,215.19 1209.92,214.83 C1210.93,214.46 1211.93,214.1 1212.93,213.75 C1213.94,213.39 1214.94,213.04 1215.95,212.69 C1216.95,212.34 1217.96,212 1218.96,211.65 C1219.96,211.31 1220.97,210.97 1221.97,210.64 C1222.98,210.31 1223.98,209.97 1224.99,209.65 C1225.99,209.32 1227,209 1228,208.68 C1229,208.36 1230.01,208.04 1231.01,207.73 C1232.02,207.42 1233.02,207.11 1234.03,206.8 C1235.03,206.5 1236.04,206.2 1237.04,205.9 C1238.04,205.6 1239.05,205.31 1240.05,205.02 C1241.06,204.73 1242.06,204.44 1243.07,204.16 C1244.07,203.88 1245.07,203.6 1246.08,203.32 C1247.08,203.05 1248.09,202.77 1249.09,202.51 C1250.1,202.24 1251.1,201.98 1252.11,201.72 C1253.11,201.46 1254.11,201.2 1255.12,200.95 C1256.12,200.69 1257.13,200.45 1258.13,200.2 C1259.14,199.96 1260.14,199.72 1261.14,199.48 C1262.15,199.24 1263.15,199.01 1264.16,198.78 C1265.16,198.55 1266.17,198.32 1267.17,198.1 C1268.18,197.88 1269.18,197.66 1270.18,197.45 C1271.19,197.23 1272.19,197.02 1273.2,196.82 C1274.2,196.61 1275.21,196.41 1276.21,196.21 C1277.21,196.01 1278.22,195.82 1279.22,195.63 C1280.23,195.44 1281.23,195.25 1282.24,195.07 C1283.24,194.88 1284.25,194.7 1285.25,194.53 C1286.25,194.35 1287.26,194.18 1288.26,194.02 C1289.27,193.85 1290.27,193.69 1291.28,193.53 C1292.28,193.37 1293.29,193.21 1294.29,193.06 C1295.29,192.91 1296.3,192.76 1297.3,192.62 C1298.31,192.48 1299.31,192.34 1300.32,192.2 C1301.32,192.07 1302.32,191.94 1303.33,191.81 C1304.33,191.68 1305.34,191.56 1306.34,191.44 C1307.35,191.32 1308.35,191.21 1309.36,191.1 C1310.36,190.98 1311.36,190.88 1312.37,190.78 C1313.37,190.67 1314.38,190.57 1315.38,190.48 C1316.39,190.38 1317.39,190.29 1318.39,190.21 C1319.4,190.12 1320.4,190.04 1321.41,189.96 C1322.41,189.88 1323.42,189.81 1324.42,189.74 C1325.43,189.67 1326.43,189.6 1327.43,189.54 C1328.44,189.48 1329.44,189.42 1330.45,189.37 C1331.45,189.31 1332.46,189.27 1333.46,189.22 C1334.46,189.18 1335.47,189.13 1336.47,189.1 C1337.48,189.06 1338.48,189.03 1339.49,189 C1340.49,188.97 1341.5,188.95 1342.5,188.93 C1343.5,188.91 1344.51,188.89 1345.51,188.88 C1346.52,188.87 1347.52,188.86 1348.53,188.86 C1349.53,188.86 1350.54,188.86 1351.54,188.86 C1352.54,188.87 1353.55,188.88 1354.55,188.89 C1355.56,188.91 1356.56,188.92 1357.57,188.95 C1358.57,188.97 1359.57,189 1360.58,189.03 C1361.58,189.06 1362.59,189.09 1363.59,189.13 C1364.6,189.17 1365.6,189.22 1366.61,189.27 C1367.61,189.32 1368.61,189.37 1369.62,189.43 C1370.62,189.48 1371.63,189.54 1372.63,189.61 C1373.64,189.68 1374.64,189.75 1375.64,189.82 C1376.65,189.89 1377.65,189.97 1378.66,190.06 C1379.66,190.14 1380.67,190.23 1381.67,190.32 C1382.68,190.41 1383.68,190.51 1384.68,190.61 C1385.69,190.71 1386.69,190.81 1387.7,190.92 C1388.7,191.03 1389.71,191.15 1390.71,191.27 C1391.71,191.39 1392.72,191.51 1393.72,191.64 C1394.73,191.76 1395.73,191.9 1396.74,192.03 C1397.74,192.17 1398.75,192.31 1399.75,192.45 C1400.75,192.6 1401.76,192.75 1402.76,192.9 C1403.77,193.06 1404.77,193.22 1405.78,193.38 C1406.78,193.54 1407.79,193.71 1408.79,193.88 C1409.79,194.06 1410.8,194.23 1411.8,194.41 C1412.81,194.6 1413.81,194.78 1414.82,194.97 C1415.82,195.16 1416.82,195.36 1417.83,195.56 C1418.83,195.76 1419.84,195.96 1420.84,196.17 C1421.85,196.38 1422.85,196.59 1423.86,196.81 C1424.86,197.03 1425.86,197.25 1426.87,197.48 C1427.87,197.7 1428.88,197.94 1429.88,198.17 C1430.89,198.41 1431.89,198.65 1432.89,198.89 C1433.9,199.14 1434.9,199.39 1435.91,199.65 C1436.91,199.9 1437.92,200.16 1438.92,200.42 C1439.93,200.69 1440.93,200.96 1441.93,201.23 C1442.94,201.5 1443.94,201.78 1444.95,202.07 C1445.95,202.35 1446.96,202.64 1447.96,202.93 C1448.96,203.22 1449.97,203.52 1450.97,203.82 C1451.98,204.12 1452.98,204.43 1453.99,204.74 C1454.99,205.05 1456.5,205.53 1457,205.69" fill="none" stroke="#0000ff" stroke-width="3.2" stroke-linecap="butt" stroke-linejoin="round" stroke-dasharray="6.5 4" clip-path="url(#clipC)"/>
<line x1="928.6" y1="313.7" x2="928.6" y2="348.6" stroke="#0000ff" stroke-width="3" />
<rect x="922.1" y="322.4" width="13" height="13" fill="#0000ff"/>
<line x1="985" y1="306.2" x2="985" y2="341.3" stroke="#0000ff" stroke-width="3" />
<rect x="978.5" y="316.5" width="13" height="13" fill="#0000ff"/>
<line x1="1031.3" y1="290.5" x2="1031.3" y2="325.6" stroke="#0000ff" stroke-width="3" />
<rect x="1024.8" y="300.7" width="13" height="13" fill="#0000ff"/>
<line x1="1071.6" y1="311.2" x2="1071.6" y2="346.7" stroke="#0000ff" stroke-width="3" />
<rect x="1065.1" y="321.8" width="13" height="13" fill="#0000ff"/>
<line x1="1103.7" y1="274.3" x2="1103.7" y2="309.6" stroke="#0000ff" stroke-width="3" />
<rect x="1097.2" y="284.3" width="13" height="13" fill="#0000ff"/>
<line x1="1134.7" y1="310.6" x2="1134.7" y2="346.1" stroke="#0000ff" stroke-width="3" />
<rect x="1128.2" y="321.8" width="13" height="13" fill="#0000ff"/>
<line x1="1167.3" y1="307.9" x2="1167.3" y2="344.8" stroke="#0000ff" stroke-width="3" />
<rect x="1160.8" y="321" width="13" height="13" fill="#0000ff"/>
<line x1="1264.9" y1="276.8" x2="1264.9" y2="312.4" stroke="#0000ff" stroke-width="3" />
<rect x="1258.4" y="288.6" width="13" height="13" fill="#0000ff"/>
<line x1="1347.4" y1="188.1" x2="1347.4" y2="214.7" stroke="#0000ff" stroke-width="3" />
<rect x="1341.4" y="194.2" width="12" height="12" fill="#fff" stroke="#0000ff" stroke-width="2.8"/>
<line x1="1414.8" y1="219.9" x2="1414.8" y2="246.8" stroke="#0000ff" stroke-width="3" />
<rect x="1408.8" y="227" width="12" height="12" fill="#fff" stroke="#0000ff" stroke-width="2.8"/>
<line x1="943.4" y1="316.1" x2="943.4" y2="365.4" stroke="#ff0000" stroke-width="3" />
<circle cx="943.4" cy="339.8" r="7.3" fill="#ff0000"/>
<line x1="999.2" y1="306.2" x2="999.2" y2="360.1" stroke="#ff0000" stroke-width="3" />
<circle cx="999.2" cy="331.5" r="7.3" fill="#ff0000"/>
<line x1="1049.5" y1="295.4" x2="1049.5" y2="346.7" stroke="#ff0000" stroke-width="3" />
<circle cx="1049.5" cy="321" r="7.3" fill="#ff0000"/>
<line x1="1086.4" y1="297.4" x2="1086.4" y2="346.7" stroke="#ff0000" stroke-width="3" />
<circle cx="1086.4" cy="324" r="7.3" fill="#ff0000"/>
<line x1="1122.5" y1="286.5" x2="1122.5" y2="341.3" stroke="#ff0000" stroke-width="3" />
<circle cx="1122.5" cy="311.8" r="7.3" fill="#ff0000"/>
<line x1="1151.5" y1="297" x2="1151.5" y2="351.2" stroke="#ff0000" stroke-width="3" />
<circle cx="1151.5" cy="323" r="7.3" fill="#ff0000"/>
<line x1="1170.7" y1="294" x2="1170.7" y2="347.6" stroke="#ff0000" stroke-width="3" />
<circle cx="1170.7" cy="322.4" r="7.3" fill="#ff0000"/>
<line x1="1283.9" y1="233.7" x2="1283.9" y2="279.2" stroke="#ff0000" stroke-width="3" />
<circle cx="1283.9" cy="256.8" r="7.3" fill="#ff0000"/>
<line x1="1268.4" y1="195.7" x2="1268.4" y2="254.4" stroke="#ff0000" stroke-width="3" />
<circle cx="1268.4" cy="227.4" r="7" fill="#fff" stroke="#ff0000" stroke-width="2.8"/>
<line x1="1335.4" y1="62.1" x2="1335.4" y2="93.9" stroke="#ff0000" stroke-width="3" />
<circle cx="1335.4" cy="77.6" r="7" fill="#fff" stroke="#ff0000" stroke-width="2.8"/>
<line x1="1415.1" y1="41.4" x2="1415.1" y2="67.3" stroke="#ff0000" stroke-width="3" />
<circle cx="1415.1" cy="54.9" r="7" fill="#fff" stroke="#ff0000" stroke-width="2.8"/>
<text transform="translate(915.47,75.19)" font-family="'Liberation Sans',sans-serif" font-style="normal" font-weight="bold" font-size="52" fill="#000000">c</text>
<text transform="translate(1277.06,150.8)" font-family="'Liberation Serif',serif" font-style="normal" font-weight="normal" font-size="46.5" fill="#ff0000">NT</text>
<text transform="translate(1377.49,178.7)" font-family="'Liberation Serif',serif" font-style="normal" font-weight="normal" font-size="46.5" fill="#0000ff">QT</text>
<text transform="translate(983.49,269.7)" font-family="'Liberation Serif',serif" font-style="normal" font-weight="normal" font-size="46.5" fill="#0000ff">QT</text>
<text transform="translate(831.92,76.2)" font-family="'Liberation Serif',serif" font-style="normal" font-weight="normal" font-size="42" fill="#000000">1</text>
<text transform="translate(813.2,138.21)" font-family="'Liberation Serif',serif" font-style="normal" font-weight="normal" font-size="42" fill="#000000">0.8</text>
<text transform="translate(812.85,200.31)" font-family="'Liberation Serif',serif" font-style="normal" font-weight="normal" font-size="42" fill="#000000">0.6</text>
<text transform="translate(812.26,262.31)" font-family="'Liberation Serif',serif" font-style="normal" font-weight="normal" font-size="42" fill="#000000">0.4</text>
<text transform="translate(813.92,320.91)" font-family="'Liberation Serif',serif" font-style="normal" font-weight="normal" font-size="42" fill="#000000">0.2</text>
<text transform="translate(842.7,383.09)" font-family="'Liberation Serif',serif" font-style="normal" font-weight="normal" font-size="42" fill="#000000">0</text>
<text transform="translate(791.3,381.85) rotate(-90)" font-family="'Liberation Serif',serif" font-style="italic" font-weight="normal" font-size="47" fill="#000000">R</text>
<text transform="translate(791.3,342.94) rotate(-90)" font-family="'Liberation Serif',serif" font-style="normal" font-weight="normal" font-size="47" fill="#000000">=</text>
<text transform="translate(791.3,304.15) rotate(-90)" font-family="'Liberation Serif',serif" font-style="italic" font-weight="normal" font-size="47" fill="#000000">P</text>
<text transform="translate(806.3,274.28) rotate(-90)" font-family="'Liberation Serif',serif" font-style="normal" font-weight="normal" font-size="34" fill="#000000">M</text>
<text transform="translate(791.3,244.2) rotate(-90)" font-family="'Liberation Serif',serif" font-style="normal" font-weight="normal" font-size="47" fill="#000000">/</text>
<text transform="translate(791.3,233.51) rotate(-90)" font-family="'Liberation Serif',serif" font-style="italic" font-weight="normal" font-size="47" fill="#000000">J</text>
<text transform="translate(806.3,211.71) rotate(-90)" font-family="'Liberation Serif',serif" font-style="normal" font-weight="normal" font-size="34" fill="#000000">T</text>
<text transform="translate(791.3,189.65) rotate(-90)" font-family="'Liberation Serif',serif" font-style="normal" font-weight="normal" font-size="47" fill="#000000">Γ</text>
<text transform="translate(791.3,151.97) rotate(-90)" font-family="'Liberation Serif',serif" font-style="normal" font-weight="normal" font-size="47" fill="#000000">(</text>
<text transform="translate(791.3,132.73) rotate(-90)" font-family="'Liberation Serif',serif" font-style="normal" font-weight="normal" font-size="47" fill="#000000">10</text>
<text transform="translate(775.6,88.06) rotate(-90)" font-family="'Liberation Serif',serif" font-style="normal" font-weight="normal" font-size="34" fill="#000000">-12</text>
<text transform="translate(791.3,31.53) rotate(-90)" font-family="'Liberation Serif',serif" font-style="normal" font-weight="normal" font-size="47" fill="#000000">s</text>
<text transform="translate(791.3,13.31) rotate(-90)" font-family="'Liberation Serif',serif" font-style="normal" font-weight="normal" font-size="47" fill="#000000">)</text>
<path d="M875,683.08 C875.5,683.03 877,682.89 878,682.79 C879,682.69 880,682.6 881,682.5 C882,682.4 883,682.3 884,682.2 C885,682.1 886,682 887,681.9 C888,681.8 889,681.7 890.01,681.6 C891.01,681.5 892.01,681.4 893.01,681.29 C894.01,681.19 895.01,681.09 896.01,680.98 C897.01,680.88 898.01,680.77 899.01,680.67 C900.01,680.56 901.01,680.45 902.01,680.35 C903.01,680.24 904.01,680.13 905.01,680.02 C906.01,679.91 907.01,679.8 908.01,679.69 C909.01,679.58 910.01,679.47 911.01,679.35 C912.01,679.24 913.01,679.13 914.01,679.01 C915.01,678.9 916.01,678.78 917.01,678.67 C918.01,678.55 919.02,678.43 920.02,678.31 C921.02,678.19 922.02,678.08 923.02,677.95 C924.02,677.83 925.02,677.71 926.02,677.59 C927.02,677.47 928.02,677.34 929.02,677.22 C930.02,677.09 931.02,676.97 932.02,676.84 C933.02,676.71 934.02,676.58 935.02,676.45 C936.02,676.32 937.02,676.19 938.02,676.06 C939.02,675.93 940.02,675.8 941.02,675.66 C942.02,675.53 943.02,675.39 944.02,675.25 C945.02,675.12 946.02,674.98 947.02,674.84 C948.03,674.7 949.03,674.56 950.03,674.41 C951.03,674.27 952.03,674.13 953.03,673.98 C954.03,673.84 955.03,673.69 956.03,673.54 C957.03,673.39 958.03,673.24 959.03,673.09 C960.03,672.94 961.03,672.79 962.03,672.63 C963.03,672.48 964.03,672.33 965.03,672.17 C966.03,672.01 967.03,671.85 968.03,671.69 C969.03,671.53 970.03,671.37 971.03,671.21 C972.03,671.04 973.03,670.88 974.03,670.71 C975.03,670.54 976.03,670.38 977.04,670.21 C978.04,670.03 979.04,669.86 980.04,669.69 C981.04,669.52 982.04,669.34 983.04,669.16 C984.04,668.99 985.04,668.81 986.04,668.63 C987.04,668.45 988.04,668.26 989.04,668.08 C990.04,667.9 991.04,667.71 992.04,667.52 C993.04,667.33 994.04,667.14 995.04,666.95 C996.04,666.76 997.04,666.57 998.04,666.37 C999.04,666.18 1000.04,665.98 1001.04,665.78 C1002.04,665.58 1003.04,665.38 1004.04,665.17 C1005.04,664.97 1006.05,664.77 1007.05,664.56 C1008.05,664.35 1009.05,664.14 1010.05,663.93 C1011.05,663.72 1012.05,663.5 1013.05,663.29 C1014.05,663.07 1015.05,662.85 1016.05,662.63 C1017.05,662.41 1018.05,662.19 1019.05,661.97 C1020.05,661.74 1021.05,661.52 1022.05,661.29 C1023.05,661.06 1024.05,660.83 1025.05,660.6 C1026.05,660.36 1027.05,660.13 1028.05,659.89 C1029.05,659.65 1030.05,659.41 1031.05,659.17 C1032.05,658.93 1033.05,658.68 1034.05,658.43 C1035.05,658.19 1036.06,657.94 1037.06,657.69 C1038.06,657.43 1039.06,657.18 1040.06,656.92 C1041.06,656.67 1042.06,656.41 1043.06,656.15 C1044.06,655.88 1045.06,655.62 1046.06,655.35 C1047.06,655.09 1048.06,654.82 1049.06,654.55 C1050.06,654.27 1051.06,654 1052.06,653.72 C1053.06,653.45 1054.06,653.17 1055.06,652.89 C1056.06,652.6 1057.06,652.32 1058.06,652.03 C1059.06,651.74 1060.06,651.46 1061.06,651.16 C1062.06,650.87 1063.06,650.58 1064.06,650.28 C1065.07,649.98 1066.07,649.68 1067.07,649.38 C1068.07,649.07 1069.07,648.77 1070.07,648.46 C1071.07,648.15 1072.07,647.84 1073.07,647.52 C1074.07,647.21 1075.07,646.89 1076.07,646.57 C1077.07,646.25 1078.07,645.93 1079.07,645.6 C1080.07,645.28 1081.07,644.95 1082.07,644.62 C1083.07,644.28 1084.07,643.95 1085.07,643.61 C1086.07,643.27 1087.07,642.93 1088.07,642.59 C1089.07,642.25 1090.07,641.9 1091.07,641.55 C1092.07,641.2 1093.07,640.85 1094.08,640.49 C1095.08,640.14 1096.08,639.78 1097.08,639.42 C1098.08,639.06 1099.08,638.69 1100.08,638.32 C1101.08,637.95 1102.08,637.58 1103.08,637.21 C1104.08,636.83 1105.08,636.46 1106.08,636.08 C1107.08,635.7 1108.08,635.31 1109.08,634.92 C1110.08,634.54 1111.08,634.15 1112.08,633.75 C1113.08,633.36 1114.08,632.96 1115.08,632.56 C1116.08,632.16 1117.08,631.76 1118.08,631.35 C1119.08,630.95 1120.08,630.54 1121.08,630.12 C1122.08,629.71 1123.09,629.29 1124.09,628.87 C1125.09,628.45 1126.09,628.03 1127.09,627.6 C1128.09,627.17 1129.09,626.74 1130.09,626.31 C1131.09,625.87 1132.09,625.43 1133.09,624.99 C1134.09,624.55 1135.09,624.11 1136.09,623.66 C1137.09,623.21 1138.09,622.76 1139.09,622.3 C1140.09,621.85 1141.09,621.39 1142.09,620.93 C1143.09,620.46 1144.09,620 1145.09,619.53 C1146.09,619.06 1147.09,618.58 1148.09,618.11 C1149.09,617.63 1150.09,617.15 1151.09,616.66 C1152.1,616.18 1153.1,615.69 1154.1,615.2 C1155.1,614.71 1156.1,614.21 1157.1,613.71 C1158.1,613.21 1159.1,612.71 1160.1,612.2 C1161.1,611.7 1162.1,611.19 1163.1,610.68 C1164.1,610.16 1165.1,609.65 1166.1,609.13 C1167.1,608.61 1168.1,608.09 1169.1,607.56 C1170.1,607.04 1171.1,606.51 1172.1,605.98 C1173.1,605.45 1174.1,604.91 1175.1,604.38 C1176.1,603.84 1177.1,603.3 1178.1,602.76 C1179.1,602.22 1180.1,601.67 1181.11,601.13 C1182.11,600.58 1183.11,600.03 1184.11,599.48 C1185.11,598.93 1186.11,598.38 1187.11,597.82 C1188.11,597.26 1189.11,596.71 1190.11,596.15 C1191.11,595.59 1192.11,595.02 1193.11,594.46 C1194.11,593.9 1195.11,593.33 1196.11,592.76 C1197.11,592.2 1198.11,591.63 1199.11,591.06 C1200.11,590.48 1201.11,589.91 1202.11,589.34 C1203.11,588.76 1204.11,588.19 1205.11,587.61 C1206.11,587.03 1207.11,586.45 1208.11,585.87 C1209.11,585.29 1210.12,584.71 1211.12,584.13 C1212.12,583.55 1213.12,582.97 1214.12,582.38 C1215.12,581.8 1216.12,581.21 1217.12,580.63 C1218.12,580.04 1219.12,579.45 1220.12,578.86 C1221.12,578.28 1222.12,577.69 1223.12,577.1 C1224.12,576.51 1225.12,575.92 1226.12,575.33 C1227.12,574.74 1228.12,574.15 1229.12,573.56 C1230.12,572.97 1231.12,572.38 1232.12,571.78 C1233.12,571.19 1234.12,570.6 1235.12,570.01 C1236.12,569.42 1237.12,568.82 1238.12,568.23 C1239.13,567.64 1240.13,567.05 1241.13,566.46 C1242.13,565.87 1243.13,565.27 1244.13,564.68 C1245.13,564.09 1246.13,563.5 1247.13,562.91 C1248.13,562.32 1249.13,561.73 1250.13,561.14 C1251.13,560.55 1252.13,559.96 1253.13,559.37 C1254.13,558.79 1255.13,558.2 1256.13,557.61 C1257.13,557.02 1258.13,556.44 1259.13,555.85 C1260.13,555.26 1261.13,554.68 1262.13,554.09 C1263.13,553.51 1264.13,552.92 1265.13,552.34 C1266.13,551.75 1267.13,551.17 1268.14,550.59 C1269.14,550 1270.14,549.42 1271.14,548.84 C1272.14,548.26 1273.14,547.68 1274.14,547.1 C1275.14,546.52 1276.14,545.94 1277.14,545.36 C1278.14,544.78 1279.14,544.2 1280.14,543.62 C1281.14,543.05 1282.14,542.47 1283.14,541.89 C1284.14,541.32 1285.14,540.74 1286.14,540.17 C1287.14,539.59 1288.14,539.02 1289.14,538.44 C1290.14,537.87 1291.14,537.3 1292.14,536.73 C1293.14,536.15 1294.14,535.58 1295.14,535.01 C1296.14,534.44 1297.15,533.87 1298.15,533.31 C1299.15,532.74 1300.15,532.17 1301.15,531.6 C1302.15,531.04 1303.15,530.47 1304.15,529.91 C1305.15,529.34 1306.15,528.78 1307.15,528.21 C1308.15,527.65 1309.15,527.09 1310.15,526.53 C1311.15,525.97 1312.15,525.41 1313.15,524.85 C1314.15,524.29 1315.15,523.73 1316.15,523.17 C1317.15,522.61 1318.15,522.06 1319.15,521.5 C1320.15,520.95 1321.15,520.39 1322.15,519.84 C1323.15,519.29 1324.15,518.73 1325.15,518.18 C1326.15,517.63 1327.16,517.08 1328.16,516.53 C1329.16,515.98 1330.16,515.43 1331.16,514.89 C1332.16,514.34 1333.16,513.79 1334.16,513.25 C1335.16,512.7 1336.16,512.16 1337.16,511.62 C1338.16,511.07 1339.16,510.53 1340.16,509.99 C1341.16,509.45 1342.16,508.91 1343.16,508.37 C1344.16,507.84 1345.16,507.3 1346.16,506.76 C1347.16,506.23 1348.16,505.69 1349.16,505.16 C1350.16,504.63 1351.16,504.09 1352.16,503.56 C1353.16,503.03 1354.16,502.5 1355.16,501.97 C1356.17,501.45 1357.17,500.92 1358.17,500.39 C1359.17,499.87 1360.17,499.34 1361.17,498.82 C1362.17,498.3 1363.17,497.77 1364.17,497.25 C1365.17,496.73 1366.17,496.21 1367.17,495.7 C1368.17,495.18 1369.17,494.66 1370.17,494.15 C1371.17,493.63 1372.17,493.12 1373.17,492.61 C1374.17,492.09 1375.17,491.58 1376.17,491.07 C1377.17,490.56 1378.17,490.05 1379.17,489.55 C1380.17,489.04 1381.17,488.54 1382.17,488.03 C1383.17,487.53 1384.17,487.03 1385.18,486.53 C1386.18,486.02 1387.18,485.53 1388.18,485.03 C1389.18,484.53 1390.18,484.03 1391.18,483.54 C1392.18,483.04 1393.18,482.55 1394.18,482.06 C1395.18,481.57 1396.18,481.08 1397.18,480.59 C1398.18,480.1 1399.18,479.61 1400.18,479.13 C1401.18,478.64 1402.18,478.16 1403.18,477.68 C1404.18,477.19 1405.18,476.71 1406.18,476.23 C1407.18,475.76 1408.18,475.28 1409.18,474.8 C1410.18,474.33 1411.18,473.85 1412.18,473.38 C1413.18,472.91 1414.19,472.44 1415.19,471.97 C1416.19,471.5 1417.19,471.03 1418.19,470.57 C1419.19,470.1 1420.19,469.64 1421.19,469.18 C1422.19,468.72 1423.19,468.26 1424.19,467.8 C1425.19,467.34 1426.19,466.88 1427.19,466.43 C1428.19,465.97 1429.19,465.52 1430.19,465.07 C1431.19,464.62 1432.19,464.17 1433.19,463.72 C1434.19,463.27 1435.19,462.83 1436.19,462.38 C1437.19,461.94 1438.19,461.5 1439.19,461.06 C1440.19,460.62 1441.19,460.18 1442.19,459.74 C1443.2,459.31 1444.2,458.87 1445.2,458.44 C1446.2,458.01 1447.2,457.58 1448.2,457.15 C1449.2,456.72 1450.2,456.3 1451.2,455.87 C1452.2,455.45 1453.2,455.02 1454.2,454.6 C1455.2,454.18 1456.7,453.56 1457.2,453.35" fill="none" stroke="#ff0000" stroke-width="3" stroke-linecap="butt" stroke-linejoin="round" clip-path="url(#clipD)"/>
<path d="M872.3,683.44 C872.8,683.41 874.31,683.3 875.31,683.23 C876.32,683.16 877.32,683.08 878.33,683.01 C879.33,682.93 880.34,682.85 881.34,682.77 C882.35,682.69 883.35,682.61 884.36,682.52 C885.36,682.44 886.37,682.35 887.37,682.26 C888.38,682.17 889.38,682.08 890.39,681.99 C891.39,681.89 892.4,681.8 893.4,681.7 C894.41,681.6 895.41,681.5 896.42,681.4 C897.42,681.3 898.43,681.2 899.43,681.09 C900.44,680.99 901.44,680.88 902.45,680.77 C903.45,680.66 904.46,680.55 905.46,680.44 C906.47,680.33 907.47,680.21 908.48,680.1 C909.48,679.98 910.49,679.86 911.49,679.74 C912.5,679.62 913.5,679.5 914.51,679.38 C915.51,679.25 916.52,679.13 917.52,679 C918.53,678.87 919.53,678.74 920.54,678.61 C921.54,678.48 922.55,678.35 923.55,678.21 C924.56,678.08 925.56,677.94 926.57,677.8 C927.57,677.67 928.58,677.53 929.58,677.38 C930.59,677.24 931.59,677.1 932.6,676.96 C933.6,676.81 934.61,676.66 935.61,676.52 C936.62,676.37 937.62,676.22 938.63,676.07 C939.63,675.91 940.64,675.76 941.64,675.61 C942.65,675.45 943.65,675.29 944.66,675.14 C945.66,674.98 946.67,674.82 947.67,674.66 C948.68,674.5 949.68,674.33 950.69,674.17 C951.69,674 952.7,673.84 953.7,673.67 C954.71,673.5 955.71,673.33 956.72,673.16 C957.72,672.99 958.73,672.82 959.73,672.65 C960.74,672.47 961.74,672.3 962.75,672.12 C963.75,671.94 964.76,671.77 965.76,671.59 C966.77,671.41 967.77,671.23 968.78,671.04 C969.78,670.86 970.79,670.68 971.79,670.49 C972.8,670.31 973.8,670.12 974.81,669.93 C975.81,669.74 976.82,669.55 977.82,669.36 C978.83,669.17 979.83,668.98 980.84,668.78 C981.84,668.59 982.85,668.4 983.85,668.2 C984.86,668 985.86,667.81 986.87,667.61 C987.87,667.41 988.88,667.21 989.88,667.01 C990.89,666.8 991.89,666.6 992.9,666.4 C993.9,666.19 994.91,665.99 995.91,665.78 C996.92,665.57 997.92,665.36 998.93,665.16 C999.93,664.95 1000.94,664.74 1001.94,664.52 C1002.95,664.31 1003.95,664.1 1004.96,663.89 C1005.96,663.67 1006.97,663.46 1007.97,663.24 C1008.98,663.02 1009.98,662.81 1010.99,662.59 C1011.99,662.37 1013,662.15 1014,661.93 C1015.01,661.71 1016.01,661.48 1017.02,661.26 C1018.02,661.04 1019.03,660.81 1020.03,660.59 C1021.04,660.36 1022.04,660.14 1023.05,659.91 C1024.05,659.68 1025.06,659.45 1026.06,659.22 C1027.07,658.99 1028.07,658.76 1029.08,658.53 C1030.08,658.3 1031.09,658.07 1032.09,657.83 C1033.1,657.6 1034.1,657.36 1035.11,657.13 C1036.11,656.89 1037.12,656.66 1038.12,656.42 C1039.13,656.18 1040.13,655.94 1041.14,655.7 C1042.14,655.46 1043.15,655.22 1044.15,654.98 C1045.16,654.74 1046.16,654.5 1047.17,654.26 C1048.17,654.01 1049.18,653.77 1050.18,653.52 C1051.19,653.28 1052.19,653.03 1053.2,652.79 C1054.2,652.54 1055.21,652.29 1056.21,652.04 C1057.22,651.8 1058.22,651.55 1059.23,651.3 C1060.23,651.05 1061.24,650.8 1062.24,650.54 C1063.25,650.29 1064.25,650.04 1065.26,649.79 C1066.26,649.53 1067.27,649.28 1068.27,649.03 C1069.28,648.77 1070.28,648.52 1071.29,648.26 C1072.29,648 1073.3,647.75 1074.3,647.49 C1075.31,647.23 1076.31,646.98 1077.32,646.72 C1078.32,646.46 1079.33,646.2 1080.33,645.94 C1081.34,645.68 1082.34,645.42 1083.35,645.16 C1084.35,644.89 1085.36,644.63 1086.36,644.37 C1087.37,644.11 1088.37,643.84 1089.38,643.58 C1090.38,643.32 1091.39,643.05 1092.39,642.79 C1093.4,642.52 1094.4,642.26 1095.41,641.99 C1096.41,641.72 1097.42,641.46 1098.42,641.19 C1099.43,640.92 1100.43,640.66 1101.44,640.39 C1102.44,640.12 1103.45,639.85 1104.45,639.58 C1105.46,639.31 1106.46,639.04 1107.47,638.77 C1108.47,638.5 1109.48,638.23 1110.48,637.96 C1111.49,637.69 1112.49,637.42 1113.5,637.15 C1114.5,636.87 1115.51,636.6 1116.51,636.33 C1117.52,636.06 1118.52,635.78 1119.53,635.51 C1120.53,635.24 1121.54,634.96 1122.54,634.69 C1123.55,634.41 1124.55,634.14 1125.56,633.86 C1126.56,633.59 1127.57,633.31 1128.57,633.04 C1129.58,632.76 1130.58,632.49 1131.59,632.21 C1132.59,631.93 1133.6,631.66 1134.6,631.38 C1135.61,631.1 1136.61,630.83 1137.62,630.55 C1138.62,630.27 1139.63,629.99 1140.63,629.72 C1141.64,629.44 1142.64,629.16 1143.65,628.88 C1144.65,628.6 1145.66,628.33 1146.66,628.05 C1147.67,627.77 1148.67,627.49 1149.68,627.21 C1150.68,626.93 1151.69,626.65 1152.69,626.37 C1153.7,626.09 1154.7,625.82 1155.71,625.54 C1156.71,625.26 1157.72,624.98 1158.72,624.7 C1159.73,624.42 1160.73,624.14 1161.74,623.86 C1162.74,623.58 1163.75,623.3 1164.75,623.02 C1165.75,622.74 1166.76,622.46 1167.76,622.18 C1168.77,621.9 1169.77,621.62 1170.78,621.34 C1171.78,621.06 1172.79,620.78 1173.79,620.5 C1174.8,620.22 1175.8,619.93 1176.81,619.65 C1177.81,619.37 1178.82,619.09 1179.82,618.81 C1180.83,618.53 1181.83,618.25 1182.84,617.97 C1183.84,617.69 1184.85,617.41 1185.85,617.13 C1186.86,616.85 1187.86,616.57 1188.87,616.29 C1189.87,616.01 1190.88,615.74 1191.88,615.46 C1192.89,615.18 1193.89,614.9 1194.9,614.62 C1195.9,614.34 1196.91,614.06 1197.91,613.78 C1198.92,613.5 1199.92,613.22 1200.93,612.94 C1201.93,612.67 1202.94,612.39 1203.94,612.11 C1204.95,611.83 1205.95,611.55 1206.96,611.28 C1207.96,611 1208.97,610.72 1209.97,610.44 C1210.98,610.17 1211.98,609.89 1212.99,609.61 C1213.99,609.34 1215,609.06 1216,608.78 C1217.01,608.51 1218.01,608.23 1219.02,607.96 C1220.02,607.68 1221.03,607.41 1222.03,607.13 C1223.04,606.86 1224.04,606.58 1225.05,606.31 C1226.05,606.04 1227.06,605.76 1228.06,605.49 C1229.07,605.22 1230.07,604.94 1231.08,604.67 C1232.08,604.4 1233.09,604.13 1234.09,603.85 C1235.1,603.58 1236.1,603.31 1237.11,603.04 C1238.11,602.77 1239.12,602.5 1240.12,602.23 C1241.13,601.96 1242.13,601.69 1243.14,601.42 C1244.14,601.15 1245.15,600.89 1246.15,600.62 C1247.16,600.35 1248.16,600.08 1249.17,599.82 C1250.17,599.55 1251.18,599.28 1252.18,599.02 C1253.19,598.75 1254.19,598.49 1255.2,598.22 C1256.2,597.96 1257.21,597.69 1258.21,597.43 C1259.22,597.17 1260.22,596.91 1261.23,596.64 C1262.23,596.38 1263.24,596.12 1264.24,595.86 C1265.25,595.6 1266.25,595.34 1267.26,595.08 C1268.26,594.82 1269.27,594.56 1270.27,594.3 C1271.28,594.05 1272.28,593.79 1273.29,593.53 C1274.29,593.28 1275.3,593.02 1276.3,592.77 C1277.31,592.51 1278.31,592.26 1279.32,592 C1280.32,591.75 1281.33,591.5 1282.33,591.25 C1283.34,590.99 1284.34,590.74 1285.35,590.49 C1286.35,590.24 1287.36,589.99 1288.36,589.74 C1289.37,589.5 1290.37,589.25 1291.38,589 C1292.38,588.75 1293.39,588.51 1294.39,588.26 C1295.4,588.02 1296.4,587.77 1297.41,587.53 C1298.41,587.29 1299.42,587.04 1300.42,586.8 C1301.43,586.56 1302.43,586.32 1303.44,586.08 C1304.44,585.84 1305.45,585.6 1306.45,585.37 C1307.46,585.13 1308.46,584.89 1309.47,584.66 C1310.47,584.42 1311.48,584.19 1312.48,583.95 C1313.49,583.72 1314.49,583.49 1315.5,583.25 C1316.5,583.02 1317.51,582.79 1318.51,582.56 C1319.52,582.33 1320.52,582.11 1321.53,581.88 C1322.53,581.65 1323.54,581.42 1324.54,581.2 C1325.55,580.97 1326.55,580.75 1327.56,580.53 C1328.56,580.3 1329.57,580.08 1330.57,579.86 C1331.58,579.64 1332.58,579.42 1333.59,579.21 C1334.59,578.99 1335.6,578.77 1336.6,578.55 C1337.61,578.34 1338.61,578.12 1339.62,577.91 C1340.62,577.7 1341.63,577.49 1342.63,577.27 C1343.64,577.06 1344.64,576.85 1345.65,576.65 C1346.65,576.44 1347.66,576.23 1348.66,576.03 C1349.67,575.82 1350.67,575.62 1351.68,575.41 C1352.68,575.21 1353.69,575.01 1354.69,574.81 C1355.7,574.61 1356.7,574.41 1357.71,574.21 C1358.71,574.01 1359.72,573.82 1360.72,573.62 C1361.73,573.43 1362.73,573.23 1363.74,573.04 C1364.74,572.85 1365.75,572.66 1366.75,572.47 C1367.76,572.28 1368.76,572.09 1369.77,571.91 C1370.77,571.72 1371.78,571.54 1372.78,571.35 C1373.79,571.17 1374.79,570.99 1375.8,570.81 C1376.8,570.63 1377.81,570.45 1378.81,570.27 C1379.82,570.09 1380.82,569.92 1381.83,569.74 C1382.83,569.57 1383.84,569.4 1384.84,569.23 C1385.85,569.06 1386.85,568.89 1387.86,568.72 C1388.86,568.55 1389.87,568.38 1390.87,568.22 C1391.88,568.06 1392.88,567.89 1393.89,567.73 C1394.89,567.57 1395.9,567.41 1396.9,567.25 C1397.91,567.09 1398.91,566.94 1399.92,566.78 C1400.92,566.63 1401.93,566.48 1402.93,566.32 C1403.94,566.17 1404.94,566.02 1405.95,565.88 C1406.95,565.73 1407.96,565.58 1408.96,565.44 C1409.97,565.29 1410.97,565.15 1411.98,565.01 C1412.98,564.87 1413.99,564.73 1414.99,564.59 C1416,564.46 1417,564.32 1418.01,564.19 C1419.01,564.06 1420.02,563.92 1421.02,563.79 C1422.03,563.66 1423.03,563.54 1424.04,563.41 C1425.04,563.29 1426.05,563.16 1427.05,563.04 C1428.06,562.92 1429.06,562.8 1430.07,562.68 C1431.07,562.56 1432.08,562.44 1433.08,562.33 C1434.09,562.21 1435.09,562.1 1436.1,561.99 C1437.1,561.88 1438.11,561.77 1439.11,561.67 C1440.12,561.56 1441.12,561.45 1442.13,561.35 C1443.13,561.25 1444.14,561.15 1445.14,561.05 C1446.15,560.95 1447.15,560.86 1448.16,560.76 C1449.16,560.67 1450.17,560.57 1451.17,560.48 C1452.18,560.39 1453.18,560.31 1454.19,560.22 C1455.19,560.13 1456.7,560.01 1457.2,559.97" fill="none" stroke="#0000ff" stroke-width="6" stroke-linecap="butt" stroke-linejoin="round" clip-path="url(#clipD)"/>
<line x1="928.6" y1="660.4" x2="928.6" y2="696.4" stroke="#0000ff" stroke-width="3" />
<rect x="922.1" y="668.2" width="13" height="13" fill="#0000ff"/>
<line x1="984.7" y1="654.2" x2="984.7" y2="690.7" stroke="#0000ff" stroke-width="3" />
<rect x="978.2" y="664.3" width="13" height="13" fill="#0000ff"/>
<line x1="1031.2" y1="641.8" x2="1031.2" y2="678.1" stroke="#0000ff" stroke-width="3" />
<rect x="1024.7" y="650.8" width="13" height="13" fill="#0000ff"/>
<line x1="1071.2" y1="651.4" x2="1071.2" y2="686.3" stroke="#0000ff" stroke-width="3" />
<rect x="1064.7" y="659.7" width="13" height="13" fill="#0000ff"/>
<line x1="1103.6" y1="630.1" x2="1103.6" y2="666.2" stroke="#0000ff" stroke-width="3" />
<rect x="1097.1" y="639.5" width="13" height="13" fill="#0000ff"/>
<line x1="1134.6" y1="638.7" x2="1134.6" y2="674.7" stroke="#0000ff" stroke-width="3" />
<rect x="1128.1" y="648.8" width="13" height="13" fill="#0000ff"/>
<line x1="1167.3" y1="637.2" x2="1167.3" y2="673.5" stroke="#0000ff" stroke-width="3" />
<rect x="1160.8" y="648" width="13" height="13" fill="#0000ff"/>
<line x1="1264.5" y1="608.4" x2="1264.5" y2="644.1" stroke="#0000ff" stroke-width="3" />
<rect x="1258" y="619.8" width="13" height="13" fill="#0000ff"/>
<line x1="1347.5" y1="524.1" x2="1347.5" y2="559.9" stroke="#0000ff" stroke-width="3" />
<rect x="1341.5" y="535.7" width="12" height="12" fill="#fff" stroke="#0000ff" stroke-width="2.8"/>
<line x1="1415.1" y1="510.1" x2="1415.1" y2="549.2" stroke="#0000ff" stroke-width="3" />
<rect x="1409.1" y="523.6" width="12" height="12" fill="#fff" stroke="#0000ff" stroke-width="2.8"/>
<line x1="943.3" y1="662" x2="943.3" y2="695.6" stroke="#ff0000" stroke-width="3" />
<circle cx="943.3" cy="674.2" r="7.3" fill="#ff0000"/>
<line x1="999" y1="656.1" x2="999" y2="689.4" stroke="#ff0000" stroke-width="3" />
<circle cx="999" cy="671.3" r="7.3" fill="#ff0000"/>
<line x1="1049" y1="646" x2="1049" y2="679.7" stroke="#ff0000" stroke-width="3" />
<circle cx="1049" cy="661.1" r="7.3" fill="#ff0000"/>
<line x1="1086.2" y1="644.5" x2="1086.2" y2="678.1" stroke="#ff0000" stroke-width="3" />
<circle cx="1086.2" cy="658.9" r="7.3" fill="#ff0000"/>
<line x1="1122.6" y1="628.2" x2="1122.6" y2="661.1" stroke="#ff0000" stroke-width="3" />
<circle cx="1122.6" cy="642.9" r="7.3" fill="#ff0000"/>
<line x1="1151.3" y1="605.3" x2="1151.3" y2="638.7" stroke="#ff0000" stroke-width="3" />
<circle cx="1151.3" cy="620.4" r="7.3" fill="#ff0000"/>
<line x1="1171" y1="592.2" x2="1171" y2="625.9" stroke="#ff0000" stroke-width="3" />
<circle cx="1171" cy="608" r="7.3" fill="#ff0000"/>
<line x1="1283.4" y1="568.7" x2="1283.4" y2="601.9" stroke="#ff0000" stroke-width="3" />
<circle cx="1283.4" cy="585" r="7.3" fill="#ff0000"/>
<line x1="1269.4" y1="479.2" x2="1269.4" y2="522.5" stroke="#ff0000" stroke-width="3" />
<circle cx="1269.4" cy="501" r="7" fill="#fff" stroke="#ff0000" stroke-width="2.8"/>
<line x1="1335.4" y1="482.5" x2="1335.4" y2="513.4" stroke="#ff0000" stroke-width="3" />
<circle cx="1335.4" cy="497.1" r="7" fill="#fff" stroke="#ff0000" stroke-width="2.8"/>
<line x1="1415.8" y1="461.3" x2="1415.8" y2="493.9" stroke="#ff0000" stroke-width="3" />
<circle cx="1415.8" cy="477.6" r="7" fill="#fff" stroke="#ff0000" stroke-width="2.8"/>
<rect x="1008.6" y="360" width="90" height="17" fill="#fff"/>
<text transform="translate(1020.16,389.2)" font-family="'Liberation Serif',serif" font-style="normal" font-weight="normal" font-size="46.5" fill="#ff0000">NT</text>
<text transform="translate(902.57,439.89)" font-family="'Liberation Sans',sans-serif" font-style="normal" font-weight="bold" font-size="52" fill="#000000">d</text>
<text transform="translate(1179.56,546.6)" font-family="'Liberation Serif',serif" font-style="normal" font-weight="normal" font-size="46.5" fill="#ff0000">NT</text>
<text transform="translate(1193.59,670.2)" font-family="'Liberation Serif',serif" font-style="normal" font-weight="normal" font-size="46.5" fill="#0000ff">QT</text>
<line x1="1368.6" y1="574.5" x2="1381.6" y2="590.8" stroke="#0000ff" stroke-width="2.6" />
<text transform="translate(1362.22,625.6)" font-family="'Liberation Serif',serif" font-style="normal" font-weight="normal" font-size="50" fill="#0000ff">η</text>
<text transform="translate(1389.31,641.57)" font-family="'Liberation Serif',serif" font-style="normal" font-weight="normal" font-size="34" fill="#0000ff">CA</text>
<text transform="translate(811.65,436.91)" font-family="'Liberation Serif',serif" font-style="normal" font-weight="normal" font-size="42" fill="#000000">0.6</text>
<text transform="translate(811.06,528.31)" font-family="'Liberation Serif',serif" font-style="normal" font-weight="normal" font-size="42" fill="#000000">0.4</text>
<text transform="translate(812.72,619.41)" font-family="'Liberation Serif',serif" font-style="normal" font-weight="normal" font-size="42" fill="#000000">0.2</text>
<text transform="translate(843.1,709.39)" font-family="'Liberation Serif',serif" font-style="normal" font-weight="normal" font-size="42" fill="#000000">0</text>
<text transform="translate(850.45,737.09)" font-family="'Liberation Serif',serif" font-style="normal" font-weight="normal" font-size="42" fill="#000000">10</text>
<text transform="translate(1130.95,737.09)" font-family="'Liberation Serif',serif" font-style="normal" font-weight="normal" font-size="42" fill="#000000">100</text>
<text transform="translate(1401.45,737.09)" font-family="'Liberation Serif',serif" font-style="normal" font-weight="normal" font-size="42" fill="#000000">1000</text>
<text transform="translate(1090.29,779.4)" font-family="'Liberation Serif',serif" font-style="italic" font-weight="normal" font-size="47" fill="#000000">J</text>
<text transform="translate(1114.09,794.9)" font-family="'Liberation Serif',serif" font-style="normal" font-weight="normal" font-size="34" fill="#000000">T</text>
<text transform="translate(1145.83,779.4)" font-family="'Liberation Serif',serif" font-style="normal" font-weight="normal" font-size="47" fill="#000000">(fW)</text>
<text transform="translate(781.4,559.55) rotate(-90) scale(1.16,1)" font-family="'Liberation Serif',serif" font-style="italic" font-weight="normal" font-size="49.5" fill="#000000">η</text>
<rect x="750.1" y="531" width="2.9" height="22.8" fill="#000000"/>
<text transform="translate(796.8,534.05) rotate(-90)" font-family="'Liberation Serif',serif" font-style="normal" font-weight="normal" font-size="36.5" fill="#000000">M</text>
<rect x="753" y="845.7" width="430.5" height="163.2" fill="none" stroke="#000" stroke-width="3"/>
<rect x="1198.1" y="796.5" width="315.4" height="213.9" fill="none" stroke="#000" stroke-width="3"/>
<text transform="translate(761.38,887)" font-family="'Liberation Serif',serif" font-style="normal" font-weight="normal" font-size="41.5" fill="#000000">exp.</text>
<text transform="translate(854.4,887)" font-family="'Liberation Serif',serif" font-style="normal" font-weight="normal" font-size="41.5" fill="#000000">setup-II</text>
<text transform="translate(1029.2,887)" font-family="'Liberation Serif',serif" font-style="normal" font-weight="normal" font-size="41.5" fill="#000000">setup-I</text>
<text transform="translate(765.69,931.3)" font-family="'Liberation Serif',serif" font-style="normal" font-weight="normal" font-size="42" fill="#ff0000">NT</text>
<text transform="translate(765.2,990.1)" font-family="'Liberation Serif',serif" font-style="normal" font-weight="normal" font-size="41.5" fill="#0000ff">QT</text>
<circle cx="844.6" cy="918.8" r="7.4" fill="#ff0000"/>
<circle cx="1021.7" cy="918.6" r="7" fill="#fff" stroke="#ff0000" stroke-width="2.8"/>
<rect x="838.1" y="966.1" width="13" height="13.6" fill="#0000ff"/>
<rect x="1013.9" y="966.4" width="12.8" height="12.8" fill="#fff" stroke="#0000ff" stroke-width="2.8"/>
<text x="856.3" y="926.4" font-family="'Liberation Serif',serif" font-size="36.5" xml:space="preserve">(<tspan font-style="italic">g</tspan> <tspan dy="2.2">~</tspan><tspan dy="-2.2"> 0.05)</tspan></text>
<text x="1033.9" y="926.4" font-family="'Liberation Serif',serif" font-size="36.5" xml:space="preserve">(<tspan font-style="italic">g</tspan> <tspan dy="2.2">~</tspan><tspan dy="-2.2"> 0.03)</tspan></text>
<text x="859.6" y="980.4" font-family="'Liberation Serif',serif" font-size="36.5" xml:space="preserve">(<tspan font-style="italic">g</tspan> <tspan dy="2.2">~</tspan><tspan dy="-2.2"> 0.5)</tspan></text>
<text x="1036.2" y="980.4" font-family="'Liberation Serif',serif" font-size="36.5" xml:space="preserve">(<tspan font-style="italic">g</tspan> <tspan dy="2.2">~</tspan><tspan dy="-2.2"> 0.5)</tspan></text>
<text transform="translate(1207.81,859.2)" font-family="'Liberation Serif',serif" font-style="normal" font-weight="normal" font-size="41.3" fill="#000000">sim.</text>
<text transform="translate(1288.81,836.7)" font-family="'Liberation Serif',serif" font-style="normal" font-weight="normal" font-size="41.3" fill="#000000">single</text>
<text transform="translate(1299.57,871)" font-family="'Liberation Serif',serif" font-style="normal" font-weight="normal" font-size="41.3" fill="#000000">level</text>
<text transform="translate(1411.03,836.7)" font-family="'Liberation Serif',serif" font-style="normal" font-weight="normal" font-size="41.3" fill="#000000">multi</text>
<text transform="translate(1414.47,871)" font-family="'Liberation Serif',serif" font-style="normal" font-weight="normal" font-size="41.3" fill="#000000">level</text>
<text transform="translate(1211.3,903.03)" font-family="'DejaVu Serif',serif" font-style="italic" font-weight="normal" font-size="39" fill="#ff0000">f</text>
<text transform="translate(1228.4,915.4)" font-family="'Liberation Serif',serif" font-style="normal" font-weight="normal" font-size="30.5" fill="#ff0000">bin</text>
<text transform="translate(1217.4,955.03)" font-family="'DejaVu Serif',serif" font-style="italic" font-weight="normal" font-size="39" fill="#0000ff">f</text>
<text transform="translate(1233.9,965.7)" font-family="'Liberation Serif',serif" font-style="normal" font-weight="normal" font-size="30.5" fill="#0000ff">th</text>
<line x1="1291.4" y1="897" x2="1381.4" y2="897" stroke="#ff0000" stroke-width="3.2" />
<line x1="1410.7" y1="897" x2="1498.4" y2="897" stroke="#ff0000" stroke-width="3.2" stroke-dasharray="5.2 3.6"/>
<line x1="1291.4" y1="939.7" x2="1381.4" y2="939.7" stroke="#0000ff" stroke-width="3" />
<line x1="1291.4" y1="954.2" x2="1381.4" y2="954.2" stroke="#0000ff" stroke-width="6" />
<line x1="1410.7" y1="946.6" x2="1498.4" y2="946.6" stroke="#0000ff" stroke-width="3.2" stroke-dasharray="5.2 3.6"/>
<text x="1324.17" y="995.7" font-family="'Liberation Serif',serif" font-size="37" xml:space="preserve">(κ <tspan dy="2.2">~</tspan><tspan dy="-2.2"> 0.2)</tspan></text>
<text transform="translate(1585.68,254.07)" font-family="'Liberation Sans',sans-serif" font-style="normal" font-weight="bold" font-size="44" fill="#000000">e</text>
<line x1="1526.3" y1="600.7" x2="1526.3" y2="350" stroke="#000000" stroke-width="2.8" />
<polygon points="1526.3,331 1520.7,358 1531.9,358" fill="#000000"/>
<text transform="translate(1517.1,318.6)" font-family="'Liberation Serif',serif" font-style="italic" font-weight="normal" font-size="42.5" fill="#000000">E</text>
<rect x="1686.9" y="276.2" width="7.9" height="367.5" fill="#000000"/>
<rect x="1821.9" y="276.2" width="7.8" height="195" fill="#000000"/>
<rect x="1821.9" y="537.4" width="7.8" height="106.4" fill="#000000"/>
<rect x="1720.3" y="344.2" width="70" height="8" fill="#000000"/>
<rect x="1720.3" y="414.5" width="70" height="8.2" fill="#000000"/>
<rect x="1720.4" y="610" width="69.7" height="7.7" fill="#000000"/>
<line x1="1587.7" y1="525.1" x2="1790" y2="525.1" stroke="#000000" stroke-width="3" stroke-dasharray="7 6.5"/>
<line x1="1800" y1="460.9" x2="1908" y2="460.9" stroke="#000000" stroke-width="3" stroke-dasharray="5.5 4.5"/>
<line x1="1794.2" y1="461" x2="1794.2" y2="525" stroke="#000000" stroke-width="3.3" />
<line x1="1787.5" y1="460.9" x2="1800.9" y2="460.9" stroke="#000000" stroke-width="4" />
<line x1="1783.1" y1="525.1" x2="1800.9" y2="525.1" stroke="#000000" stroke-width="4" />
<line x1="1690" y1="640.7" x2="1604" y2="640.7" stroke="#000000" stroke-width="4" />
<polygon points="1588.3,640.7 1606.8,631.7 1606.8,649.7" fill="#000000"/>
<line x1="1826" y1="640.7" x2="1912" y2="640.7" stroke="#000000" stroke-width="4" />
<polygon points="1928.5,640.7 1911.5,632.7 1911.5,648.7" fill="#000000"/>
<path d="M1831.7,281 C1831.72,300.83 1831.75,372.5 1831.8,400 C1831.85,427.5 1831.55,437.25 1832,446 C1832.45,454.75 1833.17,450.92 1834.5,452.5 C1835.83,454.08 1836.52,454.67 1840,455.5 C1843.48,456.33 1849.13,456.65 1855.4,457.5 C1861.67,458.35 1870.33,459.55 1877.6,460.6 C1884.87,461.65 1894.1,462.98 1899,463.8 C1903.9,464.62 1904.75,464.63 1907,465.5 C1909.25,466.37 1911.12,467.25 1912.5,469 C1913.88,470.75 1914.8,470.83 1915.3,476 C1915.8,481.17 1915.47,473 1915.5,500 C1915.53,527 1915.5,615 1915.5,638" fill="none" stroke="#000000" stroke-width="4" stroke-linecap="butt" stroke-linejoin="round"/>
<path d="M1686.5,281.5 C1686.45,297.92 1686.32,356.92 1686.2,380 C1686.08,403.08 1686.07,408.33 1685.8,420 C1685.53,431.67 1685.17,441.9 1684.6,450 C1684.03,458.1 1683.25,463.68 1682.4,468.6 C1681.55,473.52 1680.43,476.38 1679.5,479.5 C1678.57,482.62 1678.13,484.47 1676.8,487.3 C1675.47,490.13 1673.38,493.68 1671.5,496.5 C1669.62,499.32 1668.25,501.7 1665.5,504.2 C1662.75,506.7 1658.43,509.32 1655,511.5 C1651.57,513.68 1648.57,515.13 1644.9,517.3 C1641.23,519.47 1636.73,522 1633,524.5 C1629.27,527 1625.75,529.63 1622.5,532.3 C1619.25,534.97 1616,537.38 1613.5,540.5 C1611,543.62 1609.28,547.75 1607.5,551 C1605.72,554.25 1604.05,556.88 1602.8,560 C1601.55,563.12 1600.7,564.7 1600,569.7 C1599.3,574.7 1598.92,583.75 1598.6,590 C1598.28,596.25 1598.25,599.78 1598.1,607.2 C1597.95,614.62 1597.77,629.95 1597.7,634.5" fill="none" stroke="#0000ff" stroke-width="2.6" stroke-linecap="butt" stroke-linejoin="round"/>
<path d="M1684.1,281.5 C1683.93,288.13 1683.62,306.12 1683.1,321.3 C1682.58,336.48 1681.77,355.52 1681,372.6 C1680.23,389.68 1679.57,406.72 1678.5,423.8 C1677.43,440.88 1675.77,462.4 1674.6,475.1 C1673.43,487.8 1672.43,493.85 1671.5,500 C1670.57,506.15 1669.95,509.2 1669,512 C1668.05,514.8 1667.3,515.55 1665.8,516.8 C1664.3,518.05 1662.88,518.42 1660,519.5 C1657.12,520.58 1653.5,521.97 1648.5,523.3 C1643.5,524.63 1634.35,526.42 1630,527.5 C1625.65,528.58 1624.57,528.55 1622.4,529.8 C1620.23,531.05 1618.25,532.83 1617,535 C1615.75,537.17 1615.8,537.88 1614.9,542.8 C1614,547.72 1613.23,550.75 1611.6,564.5 C1609.97,578.25 1606.45,613.88 1605.1,625.3 C1603.75,636.72 1603.77,631.72 1603.5,633" fill="none" stroke="#ff0000" stroke-width="4.6" stroke-linecap="butt" stroke-linejoin="round"/>
<line x1="1673.3" y1="356.2" x2="1845" y2="356.2" stroke="#ff0000" stroke-width="4" />
<polygon points="1872,356.2 1843.5,347.2 1843.5,365.2" fill="#ff0000"/>
<line x1="1673.3" y1="428.2" x2="1845" y2="428.2" stroke="#ff0000" stroke-width="4" />
<polygon points="1871,428.2 1842.5,419.2 1842.5,437.2" fill="#ff0000"/>
<line x1="1869" y1="625.2" x2="1628" y2="625.2" stroke="#ff0000" stroke-width="4" />
<polygon points="1602.1,625.1 1629.7,616.3 1629.7,633.9" fill="#ff0000"/>
<line x1="1644.8" y1="425.1" x2="1674.4" y2="446.3" stroke="#ff0000" stroke-width="2.4" />
<line x1="1635.5" y1="480.3" x2="1661.5" y2="507" stroke="#0000ff" stroke-width="2.4" />
<text transform="translate(1587.24,405.55)" font-family="'DejaVu Serif',serif" font-style="italic" font-weight="normal" font-size="38.1" fill="#ff0000">f</text>
<text transform="translate(1602.54,418.5)" font-family="'Liberation Serif',serif" font-style="normal" font-weight="normal" font-size="30" fill="#ff0000">NT</text>
<text transform="translate(1582.84,457.25)" font-family="'DejaVu Serif',serif" font-style="italic" font-weight="normal" font-size="38.1" fill="#0000ff">f</text>
<text transform="translate(1596.27,470.1)" font-family="'Liberation Serif',serif" font-style="normal" font-weight="normal" font-size="30" fill="#0000ff">QT</text>
<text transform="translate(1561.74,502.3)" font-family="'Liberation Serif',serif" font-style="italic" font-weight="normal" font-size="44" fill="#000000">μ</text>
<text transform="translate(1584.53,516.5)" font-family="'Liberation Serif',serif" font-style="normal" font-weight="normal" font-size="31" fill="#000000">S,</text>
<text transform="translate(1603.49,515.61)" font-family="'Liberation Serif',serif" font-style="normal" font-weight="normal" font-size="40" fill="#000000">↑</text>
<text transform="translate(1708.59,324.64)" font-family="'Liberation Serif',serif" font-style="normal" font-weight="normal" font-size="47" fill="#000000">ε</text>
<text transform="translate(1736.26,324.7)" font-family="'Liberation Serif',serif" font-style="normal" font-weight="normal" font-size="47" fill="#000000">+</text>
<text transform="translate(1769.46,324.7) scale(1.27,1)" font-family="'Liberation Serif',serif" font-style="normal" font-weight="normal" font-size="34" fill="#000000">Δ</text>
<text transform="translate(1792.21,318.41)" font-family="'Liberation Serif',serif" font-style="normal" font-weight="normal" font-size="34" fill="#000000">’</text>
<text transform="translate(1797.63,337.5)" font-family="'Liberation Serif',serif" font-style="normal" font-weight="normal" font-size="31.5" fill="#000000">1</text>
<text transform="translate(1748.09,404.94)" font-family="'Liberation Serif',serif" font-style="normal" font-weight="normal" font-size="47" fill="#000000">ε</text>
<text transform="translate(1706.79,587.24)" font-family="'Liberation Serif',serif" font-style="normal" font-weight="normal" font-size="47" fill="#000000">ε</text>
<text transform="translate(1734.56,586.8)" font-family="'Liberation Serif',serif" font-style="normal" font-weight="normal" font-size="47" fill="#000000">−</text>
<text transform="translate(1767.76,587) scale(1.27,1)" font-family="'Liberation Serif',serif" font-style="normal" font-weight="normal" font-size="34" fill="#000000">Δ</text>
<text transform="translate(1794.63,599.6)" font-family="'Liberation Serif',serif" font-style="normal" font-weight="normal" font-size="31.5" fill="#000000">1</text>
<text transform="translate(1809.68,513.85)" font-family="'Liberation Serif',serif" font-style="italic" font-weight="normal" font-size="46" fill="#000000">e</text>
<text transform="translate(1833.5,512.92)" font-family="'Liberation Serif',serif" font-style="italic" font-weight="normal" font-size="46" fill="#000000">V</text>
<text transform="translate(1852.25,529)" font-family="'Liberation Serif',serif" font-style="normal" font-weight="normal" font-size="34.5" fill="#000000">eff</text>
<text transform="translate(1900.54,435.2)" font-family="'Liberation Serif',serif" font-style="italic" font-weight="normal" font-size="44" fill="#000000">μ</text>
<text transform="translate(1923.81,450)" font-family="'Liberation Serif',serif" font-style="normal" font-weight="normal" font-size="31" fill="#000000">D,</text>
<text transform="translate(1947.29,449.81)" font-family="'Liberation Serif',serif" font-style="normal" font-weight="normal" font-size="40" fill="#000000">↑</text>
<text transform="translate(1517.57,644.45)" font-family="'DejaVu Serif',serif" font-style="italic" font-weight="normal" font-size="38.5" fill="#000000">f</text>
<text transform="translate(1532.43,657.3)" font-family="'Liberation Serif',serif" font-style="normal" font-weight="normal" font-size="31" fill="#000000">S,</text>
<text transform="translate(1555.19,658.81)" font-family="'Liberation Serif',serif" font-style="normal" font-weight="normal" font-size="40" fill="#000000">↑</text>
<text transform="translate(1942.39,649.99)" font-family="'DejaVu Serif',serif" font-style="italic" font-weight="normal" font-size="40.4" fill="#000000">f</text>
<text transform="translate(1957.91,660.8)" font-family="'Liberation Serif',serif" font-style="normal" font-weight="normal" font-size="31" fill="#000000">D,</text>
<text transform="translate(1983.99,663.81)" font-family="'Liberation Serif',serif" font-style="normal" font-weight="normal" font-size="40" fill="#000000">↑</text>
</svg>
</body></html>
